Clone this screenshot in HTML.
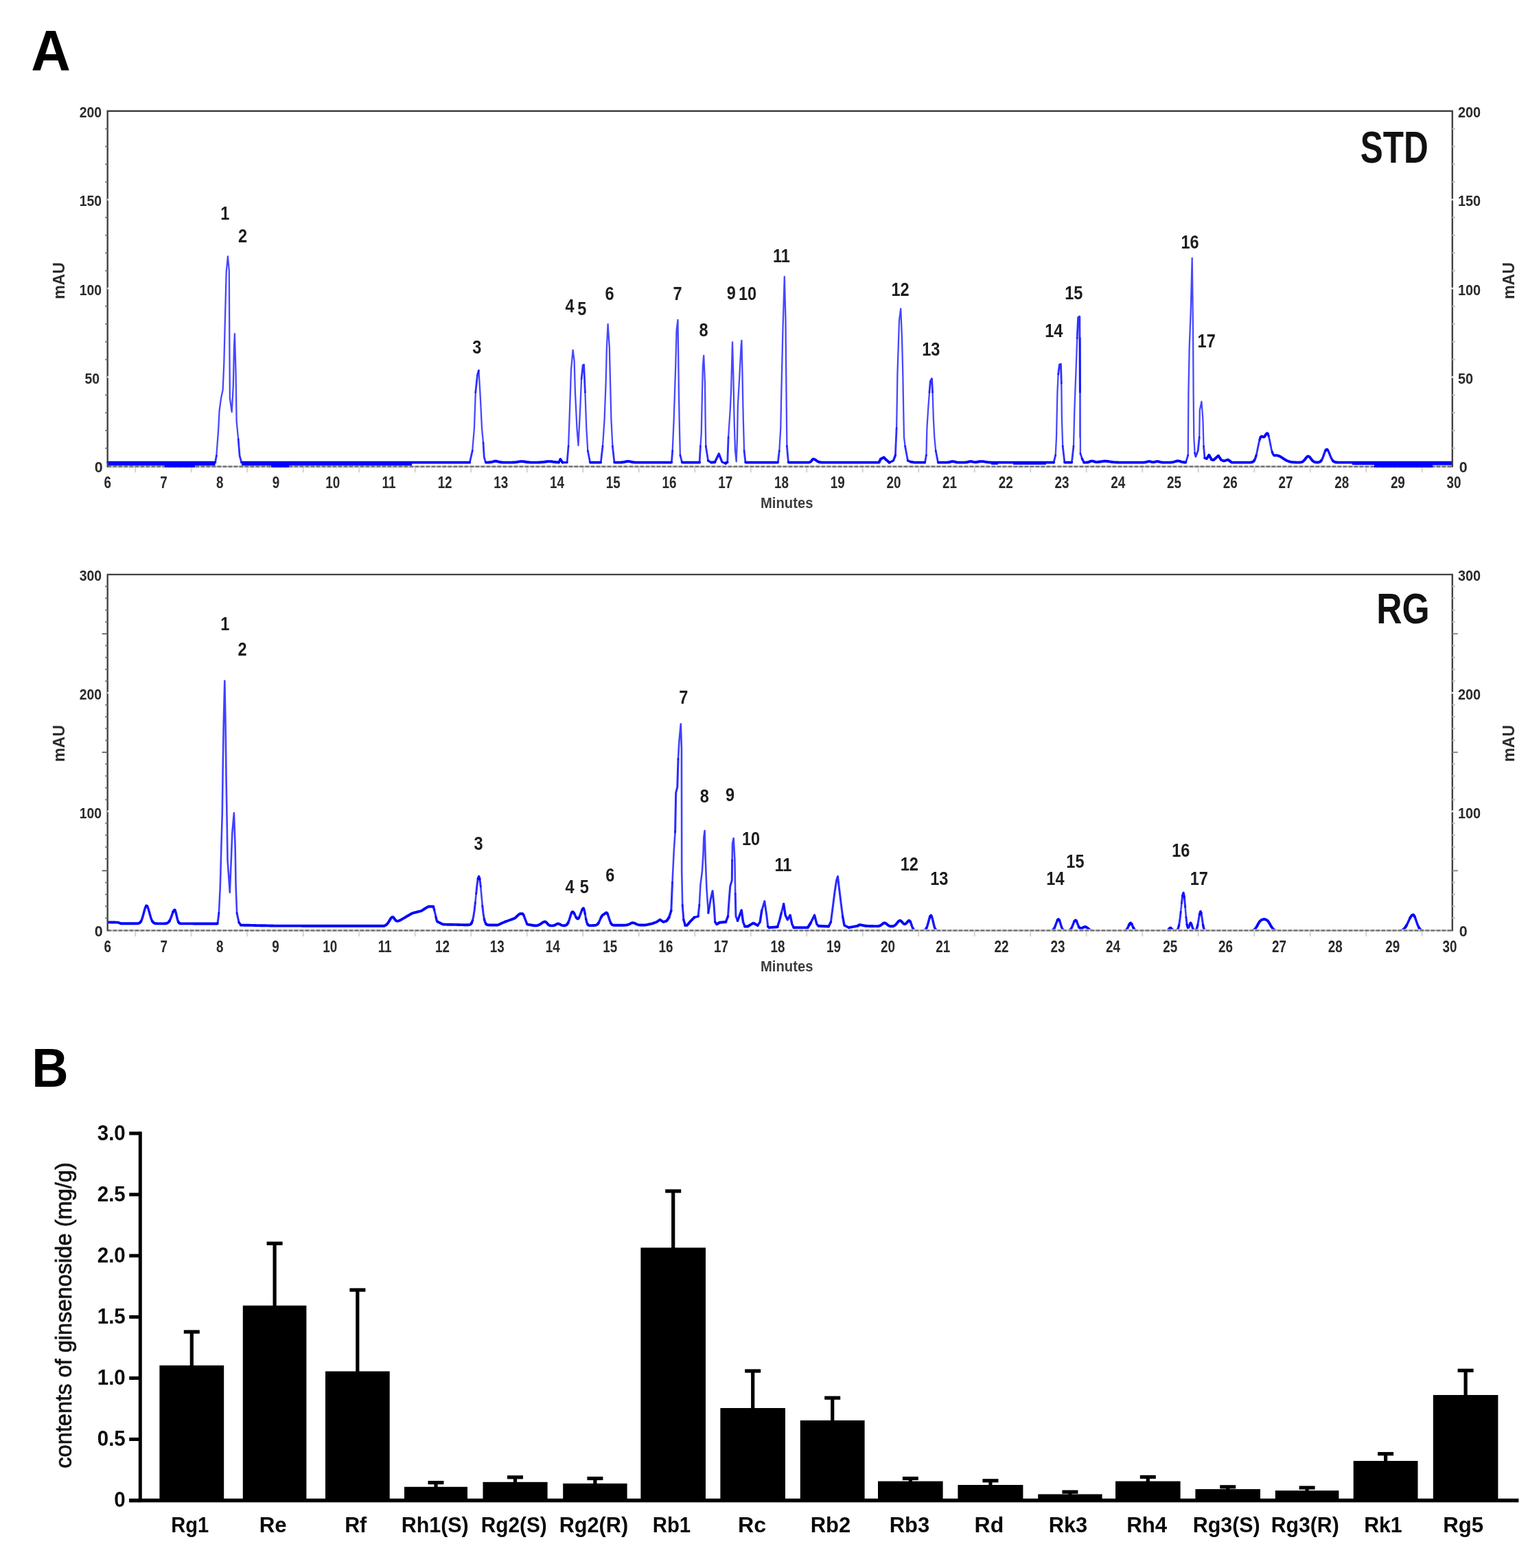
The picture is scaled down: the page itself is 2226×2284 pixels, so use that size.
<!DOCTYPE html>
<html lang="en"><head><meta charset="utf-8"><title>Figure</title>
<style>
html,body{margin:0;padding:0;background:#fff;}
body{width:2226px;height:2284px;overflow:hidden;}
svg{display:block;}
svg text{font-family:"Liberation Sans",sans-serif;}
</style></head><body>
<svg width="2226" height="2284" viewBox="0 0 2226 2284" >
<rect width="2226" height="2284" fill="#fff"/>
<defs><filter id="soft" x="-2%" y="-2%" width="104%" height="104%"><feGaussianBlur stdDeviation="0.8"/></filter><filter id="soft3" x="-2%" y="-2%" width="104%" height="104%"><feGaussianBlur stdDeviation="0.6"/></filter><filter id="soft2" x="-2%" y="-20%" width="104%" height="140%"><feGaussianBlur stdDeviation="0.45"/></filter></defs>
<text x="45.3" y="102.9" font-size="84" font-weight="bold" fill="#000" textLength="57.6" lengthAdjust="spacingAndGlyphs">A</text>
<text x="46.2" y="1583" font-size="80" font-weight="bold" fill="#000" textLength="53.4" lengthAdjust="spacingAndGlyphs">B</text>
<g>
<line x1="156.7" y1="679.60" x2="2115.8" y2="679.60" stroke="#c4c4c4" stroke-width="2.6"/>
<line x1="156.7" y1="679.60" x2="2115.8" y2="679.60" stroke="#6e6e6e" stroke-width="2.2" stroke-dasharray="5.4 2.6"/>
<line x1="156.4" y1="681.0" x2="156.4" y2="683.20" stroke="#eeeeee" stroke-width="1.8"/>
<line x1="164.6" y1="681.0" x2="164.6" y2="683.20" stroke="#eeeeee" stroke-width="1.8"/>
<line x1="172.8" y1="681.0" x2="172.8" y2="683.20" stroke="#eeeeee" stroke-width="1.8"/>
<line x1="180.9" y1="681.0" x2="180.9" y2="683.20" stroke="#eeeeee" stroke-width="1.8"/>
<line x1="189.1" y1="681.0" x2="189.1" y2="683.20" stroke="#eeeeee" stroke-width="1.8"/>
<line x1="197.2" y1="681.3" x2="197.2" y2="688.20" stroke="#d6d6d6" stroke-width="2.2"/>
<line x1="205.3" y1="681.0" x2="205.3" y2="683.20" stroke="#eeeeee" stroke-width="1.8"/>
<line x1="213.5" y1="681.0" x2="213.5" y2="683.20" stroke="#eeeeee" stroke-width="1.8"/>
<line x1="221.6" y1="681.0" x2="221.6" y2="683.20" stroke="#eeeeee" stroke-width="1.8"/>
<line x1="229.8" y1="681.0" x2="229.8" y2="683.20" stroke="#eeeeee" stroke-width="1.8"/>
<line x1="237.9" y1="681.0" x2="237.9" y2="683.20" stroke="#eeeeee" stroke-width="1.8"/>
<line x1="246.1" y1="681.0" x2="246.1" y2="683.20" stroke="#eeeeee" stroke-width="1.8"/>
<line x1="254.2" y1="681.0" x2="254.2" y2="683.20" stroke="#eeeeee" stroke-width="1.8"/>
<line x1="262.4" y1="681.0" x2="262.4" y2="683.20" stroke="#eeeeee" stroke-width="1.8"/>
<line x1="270.6" y1="681.0" x2="270.6" y2="683.20" stroke="#eeeeee" stroke-width="1.8"/>
<line x1="278.7" y1="681.3" x2="278.7" y2="688.20" stroke="#d6d6d6" stroke-width="2.2"/>
<line x1="286.8" y1="681.0" x2="286.8" y2="683.20" stroke="#eeeeee" stroke-width="1.8"/>
<line x1="295.0" y1="681.0" x2="295.0" y2="683.20" stroke="#eeeeee" stroke-width="1.8"/>
<line x1="303.1" y1="681.0" x2="303.1" y2="683.20" stroke="#eeeeee" stroke-width="1.8"/>
<line x1="311.3" y1="681.0" x2="311.3" y2="683.20" stroke="#eeeeee" stroke-width="1.8"/>
<line x1="319.4" y1="681.0" x2="319.4" y2="683.20" stroke="#eeeeee" stroke-width="1.8"/>
<line x1="327.6" y1="681.0" x2="327.6" y2="683.20" stroke="#eeeeee" stroke-width="1.8"/>
<line x1="335.7" y1="681.0" x2="335.7" y2="683.20" stroke="#eeeeee" stroke-width="1.8"/>
<line x1="343.9" y1="681.0" x2="343.9" y2="683.20" stroke="#eeeeee" stroke-width="1.8"/>
<line x1="352.1" y1="681.0" x2="352.1" y2="683.20" stroke="#eeeeee" stroke-width="1.8"/>
<line x1="360.2" y1="681.3" x2="360.2" y2="688.20" stroke="#d6d6d6" stroke-width="2.2"/>
<line x1="368.3" y1="681.0" x2="368.3" y2="683.20" stroke="#eeeeee" stroke-width="1.8"/>
<line x1="376.5" y1="681.0" x2="376.5" y2="683.20" stroke="#eeeeee" stroke-width="1.8"/>
<line x1="384.7" y1="681.0" x2="384.7" y2="683.20" stroke="#eeeeee" stroke-width="1.8"/>
<line x1="392.8" y1="681.0" x2="392.8" y2="683.20" stroke="#eeeeee" stroke-width="1.8"/>
<line x1="400.9" y1="681.0" x2="400.9" y2="683.20" stroke="#eeeeee" stroke-width="1.8"/>
<line x1="409.1" y1="681.0" x2="409.1" y2="683.20" stroke="#eeeeee" stroke-width="1.8"/>
<line x1="417.2" y1="681.0" x2="417.2" y2="683.20" stroke="#eeeeee" stroke-width="1.8"/>
<line x1="425.4" y1="681.0" x2="425.4" y2="683.20" stroke="#eeeeee" stroke-width="1.8"/>
<line x1="433.6" y1="681.0" x2="433.6" y2="683.20" stroke="#eeeeee" stroke-width="1.8"/>
<line x1="441.7" y1="681.3" x2="441.7" y2="688.20" stroke="#d6d6d6" stroke-width="2.2"/>
<line x1="449.8" y1="681.0" x2="449.8" y2="683.20" stroke="#eeeeee" stroke-width="1.8"/>
<line x1="458.0" y1="681.0" x2="458.0" y2="683.20" stroke="#eeeeee" stroke-width="1.8"/>
<line x1="466.2" y1="681.0" x2="466.2" y2="683.20" stroke="#eeeeee" stroke-width="1.8"/>
<line x1="474.3" y1="681.0" x2="474.3" y2="683.20" stroke="#eeeeee" stroke-width="1.8"/>
<line x1="482.4" y1="681.0" x2="482.4" y2="683.20" stroke="#eeeeee" stroke-width="1.8"/>
<line x1="490.6" y1="681.0" x2="490.6" y2="683.20" stroke="#eeeeee" stroke-width="1.8"/>
<line x1="498.7" y1="681.0" x2="498.7" y2="683.20" stroke="#eeeeee" stroke-width="1.8"/>
<line x1="506.9" y1="681.0" x2="506.9" y2="683.20" stroke="#eeeeee" stroke-width="1.8"/>
<line x1="515.0" y1="681.0" x2="515.0" y2="683.20" stroke="#eeeeee" stroke-width="1.8"/>
<line x1="523.2" y1="681.3" x2="523.2" y2="688.20" stroke="#d6d6d6" stroke-width="2.2"/>
<line x1="531.3" y1="681.0" x2="531.3" y2="683.20" stroke="#eeeeee" stroke-width="1.8"/>
<line x1="539.5" y1="681.0" x2="539.5" y2="683.20" stroke="#eeeeee" stroke-width="1.8"/>
<line x1="547.7" y1="681.0" x2="547.7" y2="683.20" stroke="#eeeeee" stroke-width="1.8"/>
<line x1="555.8" y1="681.0" x2="555.8" y2="683.20" stroke="#eeeeee" stroke-width="1.8"/>
<line x1="564.0" y1="681.0" x2="564.0" y2="683.20" stroke="#eeeeee" stroke-width="1.8"/>
<line x1="572.1" y1="681.0" x2="572.1" y2="683.20" stroke="#eeeeee" stroke-width="1.8"/>
<line x1="580.2" y1="681.0" x2="580.2" y2="683.20" stroke="#eeeeee" stroke-width="1.8"/>
<line x1="588.4" y1="681.0" x2="588.4" y2="683.20" stroke="#eeeeee" stroke-width="1.8"/>
<line x1="596.5" y1="681.0" x2="596.5" y2="683.20" stroke="#eeeeee" stroke-width="1.8"/>
<line x1="604.7" y1="681.3" x2="604.7" y2="688.20" stroke="#d6d6d6" stroke-width="2.2"/>
<line x1="612.8" y1="681.0" x2="612.8" y2="683.20" stroke="#eeeeee" stroke-width="1.8"/>
<line x1="621.0" y1="681.0" x2="621.0" y2="683.20" stroke="#eeeeee" stroke-width="1.8"/>
<line x1="629.2" y1="681.0" x2="629.2" y2="683.20" stroke="#eeeeee" stroke-width="1.8"/>
<line x1="637.3" y1="681.0" x2="637.3" y2="683.20" stroke="#eeeeee" stroke-width="1.8"/>
<line x1="645.5" y1="681.0" x2="645.5" y2="683.20" stroke="#eeeeee" stroke-width="1.8"/>
<line x1="653.6" y1="681.0" x2="653.6" y2="683.20" stroke="#eeeeee" stroke-width="1.8"/>
<line x1="661.8" y1="681.0" x2="661.8" y2="683.20" stroke="#eeeeee" stroke-width="1.8"/>
<line x1="669.9" y1="681.0" x2="669.9" y2="683.20" stroke="#eeeeee" stroke-width="1.8"/>
<line x1="678.0" y1="681.0" x2="678.0" y2="683.20" stroke="#eeeeee" stroke-width="1.8"/>
<line x1="686.2" y1="681.3" x2="686.2" y2="688.20" stroke="#d6d6d6" stroke-width="2.2"/>
<line x1="694.3" y1="681.0" x2="694.3" y2="683.20" stroke="#eeeeee" stroke-width="1.8"/>
<line x1="702.5" y1="681.0" x2="702.5" y2="683.20" stroke="#eeeeee" stroke-width="1.8"/>
<line x1="710.7" y1="681.0" x2="710.7" y2="683.20" stroke="#eeeeee" stroke-width="1.8"/>
<line x1="718.8" y1="681.0" x2="718.8" y2="683.20" stroke="#eeeeee" stroke-width="1.8"/>
<line x1="727.0" y1="681.0" x2="727.0" y2="683.20" stroke="#eeeeee" stroke-width="1.8"/>
<line x1="735.1" y1="681.0" x2="735.1" y2="683.20" stroke="#eeeeee" stroke-width="1.8"/>
<line x1="743.2" y1="681.0" x2="743.2" y2="683.20" stroke="#eeeeee" stroke-width="1.8"/>
<line x1="751.4" y1="681.0" x2="751.4" y2="683.20" stroke="#eeeeee" stroke-width="1.8"/>
<line x1="759.5" y1="681.0" x2="759.5" y2="683.20" stroke="#eeeeee" stroke-width="1.8"/>
<line x1="767.7" y1="681.3" x2="767.7" y2="688.20" stroke="#d6d6d6" stroke-width="2.2"/>
<line x1="775.8" y1="681.0" x2="775.8" y2="683.20" stroke="#eeeeee" stroke-width="1.8"/>
<line x1="784.0" y1="681.0" x2="784.0" y2="683.20" stroke="#eeeeee" stroke-width="1.8"/>
<line x1="792.2" y1="681.0" x2="792.2" y2="683.20" stroke="#eeeeee" stroke-width="1.8"/>
<line x1="800.3" y1="681.0" x2="800.3" y2="683.20" stroke="#eeeeee" stroke-width="1.8"/>
<line x1="808.5" y1="681.0" x2="808.5" y2="683.20" stroke="#eeeeee" stroke-width="1.8"/>
<line x1="816.6" y1="681.0" x2="816.6" y2="683.20" stroke="#eeeeee" stroke-width="1.8"/>
<line x1="824.8" y1="681.0" x2="824.8" y2="683.20" stroke="#eeeeee" stroke-width="1.8"/>
<line x1="832.9" y1="681.0" x2="832.9" y2="683.20" stroke="#eeeeee" stroke-width="1.8"/>
<line x1="841.0" y1="681.0" x2="841.0" y2="683.20" stroke="#eeeeee" stroke-width="1.8"/>
<line x1="849.2" y1="681.3" x2="849.2" y2="688.20" stroke="#d6d6d6" stroke-width="2.2"/>
<line x1="857.3" y1="681.0" x2="857.3" y2="683.20" stroke="#eeeeee" stroke-width="1.8"/>
<line x1="865.5" y1="681.0" x2="865.5" y2="683.20" stroke="#eeeeee" stroke-width="1.8"/>
<line x1="873.7" y1="681.0" x2="873.7" y2="683.20" stroke="#eeeeee" stroke-width="1.8"/>
<line x1="881.8" y1="681.0" x2="881.8" y2="683.20" stroke="#eeeeee" stroke-width="1.8"/>
<line x1="890.0" y1="681.0" x2="890.0" y2="683.20" stroke="#eeeeee" stroke-width="1.8"/>
<line x1="898.1" y1="681.0" x2="898.1" y2="683.20" stroke="#eeeeee" stroke-width="1.8"/>
<line x1="906.2" y1="681.0" x2="906.2" y2="683.20" stroke="#eeeeee" stroke-width="1.8"/>
<line x1="914.4" y1="681.0" x2="914.4" y2="683.20" stroke="#eeeeee" stroke-width="1.8"/>
<line x1="922.5" y1="681.0" x2="922.5" y2="683.20" stroke="#eeeeee" stroke-width="1.8"/>
<line x1="930.7" y1="681.3" x2="930.7" y2="688.20" stroke="#d6d6d6" stroke-width="2.2"/>
<line x1="938.8" y1="681.0" x2="938.8" y2="683.20" stroke="#eeeeee" stroke-width="1.8"/>
<line x1="947.0" y1="681.0" x2="947.0" y2="683.20" stroke="#eeeeee" stroke-width="1.8"/>
<line x1="955.2" y1="681.0" x2="955.2" y2="683.20" stroke="#eeeeee" stroke-width="1.8"/>
<line x1="963.3" y1="681.0" x2="963.3" y2="683.20" stroke="#eeeeee" stroke-width="1.8"/>
<line x1="971.5" y1="681.0" x2="971.5" y2="683.20" stroke="#eeeeee" stroke-width="1.8"/>
<line x1="979.6" y1="681.0" x2="979.6" y2="683.20" stroke="#eeeeee" stroke-width="1.8"/>
<line x1="987.8" y1="681.0" x2="987.8" y2="683.20" stroke="#eeeeee" stroke-width="1.8"/>
<line x1="995.9" y1="681.0" x2="995.9" y2="683.20" stroke="#eeeeee" stroke-width="1.8"/>
<line x1="1004.0" y1="681.0" x2="1004.0" y2="683.20" stroke="#eeeeee" stroke-width="1.8"/>
<line x1="1012.2" y1="681.3" x2="1012.2" y2="688.20" stroke="#d6d6d6" stroke-width="2.2"/>
<line x1="1020.4" y1="681.0" x2="1020.4" y2="683.20" stroke="#eeeeee" stroke-width="1.8"/>
<line x1="1028.5" y1="681.0" x2="1028.5" y2="683.20" stroke="#eeeeee" stroke-width="1.8"/>
<line x1="1036.7" y1="681.0" x2="1036.7" y2="683.20" stroke="#eeeeee" stroke-width="1.8"/>
<line x1="1044.8" y1="681.0" x2="1044.8" y2="683.20" stroke="#eeeeee" stroke-width="1.8"/>
<line x1="1053.0" y1="681.0" x2="1053.0" y2="683.20" stroke="#eeeeee" stroke-width="1.8"/>
<line x1="1061.1" y1="681.0" x2="1061.1" y2="683.20" stroke="#eeeeee" stroke-width="1.8"/>
<line x1="1069.2" y1="681.0" x2="1069.2" y2="683.20" stroke="#eeeeee" stroke-width="1.8"/>
<line x1="1077.4" y1="681.0" x2="1077.4" y2="683.20" stroke="#eeeeee" stroke-width="1.8"/>
<line x1="1085.5" y1="681.0" x2="1085.5" y2="683.20" stroke="#eeeeee" stroke-width="1.8"/>
<line x1="1093.7" y1="681.3" x2="1093.7" y2="688.20" stroke="#d6d6d6" stroke-width="2.2"/>
<line x1="1101.9" y1="681.0" x2="1101.9" y2="683.20" stroke="#eeeeee" stroke-width="1.8"/>
<line x1="1110.0" y1="681.0" x2="1110.0" y2="683.20" stroke="#eeeeee" stroke-width="1.8"/>
<line x1="1118.2" y1="681.0" x2="1118.2" y2="683.20" stroke="#eeeeee" stroke-width="1.8"/>
<line x1="1126.3" y1="681.0" x2="1126.3" y2="683.20" stroke="#eeeeee" stroke-width="1.8"/>
<line x1="1134.5" y1="681.0" x2="1134.5" y2="683.20" stroke="#eeeeee" stroke-width="1.8"/>
<line x1="1142.6" y1="681.0" x2="1142.6" y2="683.20" stroke="#eeeeee" stroke-width="1.8"/>
<line x1="1150.8" y1="681.0" x2="1150.8" y2="683.20" stroke="#eeeeee" stroke-width="1.8"/>
<line x1="1158.9" y1="681.0" x2="1158.9" y2="683.20" stroke="#eeeeee" stroke-width="1.8"/>
<line x1="1167.0" y1="681.0" x2="1167.0" y2="683.20" stroke="#eeeeee" stroke-width="1.8"/>
<line x1="1175.2" y1="681.3" x2="1175.2" y2="688.20" stroke="#d6d6d6" stroke-width="2.2"/>
<line x1="1183.4" y1="681.0" x2="1183.4" y2="683.20" stroke="#eeeeee" stroke-width="1.8"/>
<line x1="1191.5" y1="681.0" x2="1191.5" y2="683.20" stroke="#eeeeee" stroke-width="1.8"/>
<line x1="1199.7" y1="681.0" x2="1199.7" y2="683.20" stroke="#eeeeee" stroke-width="1.8"/>
<line x1="1207.8" y1="681.0" x2="1207.8" y2="683.20" stroke="#eeeeee" stroke-width="1.8"/>
<line x1="1216.0" y1="681.0" x2="1216.0" y2="683.20" stroke="#eeeeee" stroke-width="1.8"/>
<line x1="1224.1" y1="681.0" x2="1224.1" y2="683.20" stroke="#eeeeee" stroke-width="1.8"/>
<line x1="1232.2" y1="681.0" x2="1232.2" y2="683.20" stroke="#eeeeee" stroke-width="1.8"/>
<line x1="1240.4" y1="681.0" x2="1240.4" y2="683.20" stroke="#eeeeee" stroke-width="1.8"/>
<line x1="1248.5" y1="681.0" x2="1248.5" y2="683.20" stroke="#eeeeee" stroke-width="1.8"/>
<line x1="1256.7" y1="681.3" x2="1256.7" y2="688.20" stroke="#d6d6d6" stroke-width="2.2"/>
<line x1="1264.9" y1="681.0" x2="1264.9" y2="683.20" stroke="#eeeeee" stroke-width="1.8"/>
<line x1="1273.0" y1="681.0" x2="1273.0" y2="683.20" stroke="#eeeeee" stroke-width="1.8"/>
<line x1="1281.2" y1="681.0" x2="1281.2" y2="683.20" stroke="#eeeeee" stroke-width="1.8"/>
<line x1="1289.3" y1="681.0" x2="1289.3" y2="683.20" stroke="#eeeeee" stroke-width="1.8"/>
<line x1="1297.5" y1="681.0" x2="1297.5" y2="683.20" stroke="#eeeeee" stroke-width="1.8"/>
<line x1="1305.6" y1="681.0" x2="1305.6" y2="683.20" stroke="#eeeeee" stroke-width="1.8"/>
<line x1="1313.8" y1="681.0" x2="1313.8" y2="683.20" stroke="#eeeeee" stroke-width="1.8"/>
<line x1="1321.9" y1="681.0" x2="1321.9" y2="683.20" stroke="#eeeeee" stroke-width="1.8"/>
<line x1="1330.0" y1="681.0" x2="1330.0" y2="683.20" stroke="#eeeeee" stroke-width="1.8"/>
<line x1="1338.2" y1="681.3" x2="1338.2" y2="688.20" stroke="#d6d6d6" stroke-width="2.2"/>
<line x1="1346.4" y1="681.0" x2="1346.4" y2="683.20" stroke="#eeeeee" stroke-width="1.8"/>
<line x1="1354.5" y1="681.0" x2="1354.5" y2="683.20" stroke="#eeeeee" stroke-width="1.8"/>
<line x1="1362.7" y1="681.0" x2="1362.7" y2="683.20" stroke="#eeeeee" stroke-width="1.8"/>
<line x1="1370.8" y1="681.0" x2="1370.8" y2="683.20" stroke="#eeeeee" stroke-width="1.8"/>
<line x1="1379.0" y1="681.0" x2="1379.0" y2="683.20" stroke="#eeeeee" stroke-width="1.8"/>
<line x1="1387.1" y1="681.0" x2="1387.1" y2="683.20" stroke="#eeeeee" stroke-width="1.8"/>
<line x1="1395.2" y1="681.0" x2="1395.2" y2="683.20" stroke="#eeeeee" stroke-width="1.8"/>
<line x1="1403.4" y1="681.0" x2="1403.4" y2="683.20" stroke="#eeeeee" stroke-width="1.8"/>
<line x1="1411.5" y1="681.0" x2="1411.5" y2="683.20" stroke="#eeeeee" stroke-width="1.8"/>
<line x1="1419.7" y1="681.3" x2="1419.7" y2="688.20" stroke="#d6d6d6" stroke-width="2.2"/>
<line x1="1427.9" y1="681.0" x2="1427.9" y2="683.20" stroke="#eeeeee" stroke-width="1.8"/>
<line x1="1436.0" y1="681.0" x2="1436.0" y2="683.20" stroke="#eeeeee" stroke-width="1.8"/>
<line x1="1444.2" y1="681.0" x2="1444.2" y2="683.20" stroke="#eeeeee" stroke-width="1.8"/>
<line x1="1452.3" y1="681.0" x2="1452.3" y2="683.20" stroke="#eeeeee" stroke-width="1.8"/>
<line x1="1460.5" y1="681.0" x2="1460.5" y2="683.20" stroke="#eeeeee" stroke-width="1.8"/>
<line x1="1468.6" y1="681.0" x2="1468.6" y2="683.20" stroke="#eeeeee" stroke-width="1.8"/>
<line x1="1476.8" y1="681.0" x2="1476.8" y2="683.20" stroke="#eeeeee" stroke-width="1.8"/>
<line x1="1484.9" y1="681.0" x2="1484.9" y2="683.20" stroke="#eeeeee" stroke-width="1.8"/>
<line x1="1493.0" y1="681.0" x2="1493.0" y2="683.20" stroke="#eeeeee" stroke-width="1.8"/>
<line x1="1501.2" y1="681.3" x2="1501.2" y2="688.20" stroke="#d6d6d6" stroke-width="2.2"/>
<line x1="1509.4" y1="681.0" x2="1509.4" y2="683.20" stroke="#eeeeee" stroke-width="1.8"/>
<line x1="1517.5" y1="681.0" x2="1517.5" y2="683.20" stroke="#eeeeee" stroke-width="1.8"/>
<line x1="1525.7" y1="681.0" x2="1525.7" y2="683.20" stroke="#eeeeee" stroke-width="1.8"/>
<line x1="1533.8" y1="681.0" x2="1533.8" y2="683.20" stroke="#eeeeee" stroke-width="1.8"/>
<line x1="1542.0" y1="681.0" x2="1542.0" y2="683.20" stroke="#eeeeee" stroke-width="1.8"/>
<line x1="1550.1" y1="681.0" x2="1550.1" y2="683.20" stroke="#eeeeee" stroke-width="1.8"/>
<line x1="1558.2" y1="681.0" x2="1558.2" y2="683.20" stroke="#eeeeee" stroke-width="1.8"/>
<line x1="1566.4" y1="681.0" x2="1566.4" y2="683.20" stroke="#eeeeee" stroke-width="1.8"/>
<line x1="1574.5" y1="681.0" x2="1574.5" y2="683.20" stroke="#eeeeee" stroke-width="1.8"/>
<line x1="1582.7" y1="681.3" x2="1582.7" y2="688.20" stroke="#d6d6d6" stroke-width="2.2"/>
<line x1="1590.9" y1="681.0" x2="1590.9" y2="683.20" stroke="#eeeeee" stroke-width="1.8"/>
<line x1="1599.0" y1="681.0" x2="1599.0" y2="683.20" stroke="#eeeeee" stroke-width="1.8"/>
<line x1="1607.2" y1="681.0" x2="1607.2" y2="683.20" stroke="#eeeeee" stroke-width="1.8"/>
<line x1="1615.3" y1="681.0" x2="1615.3" y2="683.20" stroke="#eeeeee" stroke-width="1.8"/>
<line x1="1623.5" y1="681.0" x2="1623.5" y2="683.20" stroke="#eeeeee" stroke-width="1.8"/>
<line x1="1631.6" y1="681.0" x2="1631.6" y2="683.20" stroke="#eeeeee" stroke-width="1.8"/>
<line x1="1639.8" y1="681.0" x2="1639.8" y2="683.20" stroke="#eeeeee" stroke-width="1.8"/>
<line x1="1647.9" y1="681.0" x2="1647.9" y2="683.20" stroke="#eeeeee" stroke-width="1.8"/>
<line x1="1656.0" y1="681.0" x2="1656.0" y2="683.20" stroke="#eeeeee" stroke-width="1.8"/>
<line x1="1664.2" y1="681.3" x2="1664.2" y2="688.20" stroke="#d6d6d6" stroke-width="2.2"/>
<line x1="1672.4" y1="681.0" x2="1672.4" y2="683.20" stroke="#eeeeee" stroke-width="1.8"/>
<line x1="1680.5" y1="681.0" x2="1680.5" y2="683.20" stroke="#eeeeee" stroke-width="1.8"/>
<line x1="1688.7" y1="681.0" x2="1688.7" y2="683.20" stroke="#eeeeee" stroke-width="1.8"/>
<line x1="1696.8" y1="681.0" x2="1696.8" y2="683.20" stroke="#eeeeee" stroke-width="1.8"/>
<line x1="1705.0" y1="681.0" x2="1705.0" y2="683.20" stroke="#eeeeee" stroke-width="1.8"/>
<line x1="1713.1" y1="681.0" x2="1713.1" y2="683.20" stroke="#eeeeee" stroke-width="1.8"/>
<line x1="1721.2" y1="681.0" x2="1721.2" y2="683.20" stroke="#eeeeee" stroke-width="1.8"/>
<line x1="1729.4" y1="681.0" x2="1729.4" y2="683.20" stroke="#eeeeee" stroke-width="1.8"/>
<line x1="1737.5" y1="681.0" x2="1737.5" y2="683.20" stroke="#eeeeee" stroke-width="1.8"/>
<line x1="1745.7" y1="681.3" x2="1745.7" y2="688.20" stroke="#d6d6d6" stroke-width="2.2"/>
<line x1="1753.9" y1="681.0" x2="1753.9" y2="683.20" stroke="#eeeeee" stroke-width="1.8"/>
<line x1="1762.0" y1="681.0" x2="1762.0" y2="683.20" stroke="#eeeeee" stroke-width="1.8"/>
<line x1="1770.2" y1="681.0" x2="1770.2" y2="683.20" stroke="#eeeeee" stroke-width="1.8"/>
<line x1="1778.3" y1="681.0" x2="1778.3" y2="683.20" stroke="#eeeeee" stroke-width="1.8"/>
<line x1="1786.5" y1="681.0" x2="1786.5" y2="683.20" stroke="#eeeeee" stroke-width="1.8"/>
<line x1="1794.6" y1="681.0" x2="1794.6" y2="683.20" stroke="#eeeeee" stroke-width="1.8"/>
<line x1="1802.8" y1="681.0" x2="1802.8" y2="683.20" stroke="#eeeeee" stroke-width="1.8"/>
<line x1="1810.9" y1="681.0" x2="1810.9" y2="683.20" stroke="#eeeeee" stroke-width="1.8"/>
<line x1="1819.0" y1="681.0" x2="1819.0" y2="683.20" stroke="#eeeeee" stroke-width="1.8"/>
<line x1="1827.2" y1="681.3" x2="1827.2" y2="688.20" stroke="#d6d6d6" stroke-width="2.2"/>
<line x1="1835.4" y1="681.0" x2="1835.4" y2="683.20" stroke="#eeeeee" stroke-width="1.8"/>
<line x1="1843.5" y1="681.0" x2="1843.5" y2="683.20" stroke="#eeeeee" stroke-width="1.8"/>
<line x1="1851.7" y1="681.0" x2="1851.7" y2="683.20" stroke="#eeeeee" stroke-width="1.8"/>
<line x1="1859.8" y1="681.0" x2="1859.8" y2="683.20" stroke="#eeeeee" stroke-width="1.8"/>
<line x1="1868.0" y1="681.0" x2="1868.0" y2="683.20" stroke="#eeeeee" stroke-width="1.8"/>
<line x1="1876.1" y1="681.0" x2="1876.1" y2="683.20" stroke="#eeeeee" stroke-width="1.8"/>
<line x1="1884.2" y1="681.0" x2="1884.2" y2="683.20" stroke="#eeeeee" stroke-width="1.8"/>
<line x1="1892.4" y1="681.0" x2="1892.4" y2="683.20" stroke="#eeeeee" stroke-width="1.8"/>
<line x1="1900.5" y1="681.0" x2="1900.5" y2="683.20" stroke="#eeeeee" stroke-width="1.8"/>
<line x1="1908.7" y1="681.3" x2="1908.7" y2="688.20" stroke="#d6d6d6" stroke-width="2.2"/>
<line x1="1916.9" y1="681.0" x2="1916.9" y2="683.20" stroke="#eeeeee" stroke-width="1.8"/>
<line x1="1925.0" y1="681.0" x2="1925.0" y2="683.20" stroke="#eeeeee" stroke-width="1.8"/>
<line x1="1933.2" y1="681.0" x2="1933.2" y2="683.20" stroke="#eeeeee" stroke-width="1.8"/>
<line x1="1941.3" y1="681.0" x2="1941.3" y2="683.20" stroke="#eeeeee" stroke-width="1.8"/>
<line x1="1949.5" y1="681.0" x2="1949.5" y2="683.20" stroke="#eeeeee" stroke-width="1.8"/>
<line x1="1957.6" y1="681.0" x2="1957.6" y2="683.20" stroke="#eeeeee" stroke-width="1.8"/>
<line x1="1965.8" y1="681.0" x2="1965.8" y2="683.20" stroke="#eeeeee" stroke-width="1.8"/>
<line x1="1973.9" y1="681.0" x2="1973.9" y2="683.20" stroke="#eeeeee" stroke-width="1.8"/>
<line x1="1982.0" y1="681.0" x2="1982.0" y2="683.20" stroke="#eeeeee" stroke-width="1.8"/>
<line x1="1990.2" y1="681.3" x2="1990.2" y2="688.20" stroke="#d6d6d6" stroke-width="2.2"/>
<line x1="1998.4" y1="681.0" x2="1998.4" y2="683.20" stroke="#eeeeee" stroke-width="1.8"/>
<line x1="2006.5" y1="681.0" x2="2006.5" y2="683.20" stroke="#eeeeee" stroke-width="1.8"/>
<line x1="2014.7" y1="681.0" x2="2014.7" y2="683.20" stroke="#eeeeee" stroke-width="1.8"/>
<line x1="2022.8" y1="681.0" x2="2022.8" y2="683.20" stroke="#eeeeee" stroke-width="1.8"/>
<line x1="2031.0" y1="681.0" x2="2031.0" y2="683.20" stroke="#eeeeee" stroke-width="1.8"/>
<line x1="2039.1" y1="681.0" x2="2039.1" y2="683.20" stroke="#eeeeee" stroke-width="1.8"/>
<line x1="2047.2" y1="681.0" x2="2047.2" y2="683.20" stroke="#eeeeee" stroke-width="1.8"/>
<line x1="2055.4" y1="681.0" x2="2055.4" y2="683.20" stroke="#eeeeee" stroke-width="1.8"/>
<line x1="2063.5" y1="681.0" x2="2063.5" y2="683.20" stroke="#eeeeee" stroke-width="1.8"/>
<line x1="2071.7" y1="681.3" x2="2071.7" y2="688.20" stroke="#d6d6d6" stroke-width="2.2"/>
<line x1="2079.8" y1="681.0" x2="2079.8" y2="683.20" stroke="#eeeeee" stroke-width="1.8"/>
<line x1="2088.0" y1="681.0" x2="2088.0" y2="683.20" stroke="#eeeeee" stroke-width="1.8"/>
<line x1="2096.2" y1="681.0" x2="2096.2" y2="683.20" stroke="#eeeeee" stroke-width="1.8"/>
<line x1="2104.3" y1="681.0" x2="2104.3" y2="683.20" stroke="#eeeeee" stroke-width="1.8"/>
<line x1="2112.4" y1="681.0" x2="2112.4" y2="683.20" stroke="#eeeeee" stroke-width="1.8"/>
<g filter="url(#soft3)" fill="none" stroke-linejoin="round" stroke-linecap="round"><path d="M315.3,664.0 L317.9,630.2 L319.6,598.0 L322.1,579.6 L324.6,568.2 L326.3,530.0 L328.0,461.3 L329.7,396.0 L331.9,373.3 L333.8,394.0 L334.3,495.0 L334.9,580.0 L337.7,600.2 L339.8,562.7 L341.0,505.0 L341.9,486.2 L343.6,545.8 L344.6,613.3 L347.2,640.0 M688.2,656.6 L690.9,623.8 L692.8,571.3 M697.4,539.6 L699.4,571.3 L702.0,623.8 L704.0,645.0 M828.1,650.0 L830.0,597.6 L832.0,538.5 L834.6,510.0 L836.6,525.3 L837.9,571.3 L840.5,623.8 L842.5,648.8 L845.1,597.6 L847.1,551.6 M852.4,571.3 L854.3,623.8 L856.3,656.6 M878.0,650.0 L880.6,610.7 L882.6,558.2 L883.9,505.7 L885.6,472.2 L887.8,505.7 L889.1,558.2 L890.4,610.7 L892.4,650.0 M979.7,656.6 L981.7,610.7 L983.0,571.3 L984.3,532.0 L985.6,481.0 L987.5,465.8 L988.2,518.8 L988.9,571.3 L989.9,623.8 L990.9,663.2 M1020.4,650.0 L1021.7,632.0 L1023.0,571.3 L1023.9,533.0 L1025.2,517.8 L1027.0,558.2 L1027.6,610.7 L1028.3,650.0 M1061.1,637.0 L1063.7,597.6 L1065.0,571.3 L1066.1,531.9 L1067.0,498.4 L1068.3,545.0 L1069.6,610.7 L1071.0,656.6 L1072.7,672.4 L1074.0,637.0 L1074.9,591.0 L1077.5,545.0 L1079.5,505.7 L1080.4,496.0 L1081.5,545.0 L1082.8,610.7 L1084.1,656.6 M1135.3,656.6 L1137.3,623.8 L1138.3,571.3 L1139.6,518.8 L1140.5,479.4 L1142.8,403.0 L1144.5,466.3 L1145.1,532.0 L1145.8,597.6 L1146.4,650.0 M1306.1,623.8 L1306.8,584.4 L1307.4,545.0 L1308.7,505.7 L1310.0,466.3 L1312.2,449.6 L1314.0,492.5 L1315.3,545.0 L1316.2,597.6 L1317.0,637.0 L1318.6,650.0 M1349.4,663.2 L1350.4,623.8 L1352.5,591.0 L1354.0,571.3 M1358.6,571.3 L1359.9,610.7 L1361.3,637.0 L1363.2,656.6 M1537.7,663.2 L1539.0,637.0 L1540.4,571.3 L1541.7,545.0 M1546.3,558.2 L1546.9,610.7 L1548.2,650.0 M1564.0,650.0 L1565.3,597.6 L1567.3,545.0 L1569.2,492.5 M1573.3,571.3 L1573.3,637.0 L1573.5,492.5 L1573.9,660.6 M1730.7,663.2 L1731.4,571.3 L1732.7,505.7 L1734.7,453.1 L1736.7,375.9 L1738.0,479.4 L1738.6,571.3 L1739.3,637.0 L1740.6,660.0 M1747.2,637.0 L1747.8,597.6 L1750.4,585.0 L1752.4,610.7 L1753.5,650.0" stroke="#0000ff" stroke-opacity="0.72" stroke-width="2.30"/><path d="M313.6,673.6 L315.3,664.0 M347.2,640.0 L349.1,664.0 L351.8,673.6 M684.3,673.6 L688.2,656.6 M692.8,571.3 L695.5,546.0 L697.4,539.6 M704.0,645.0 L705.3,665.8 L707.5,673.6 M826.1,673.6 L828.1,650.0 M847.1,551.6 L849.2,532.0 L850.6,531.2 L852.4,571.3 M856.3,656.6 L859.6,673.6 M875.3,673.6 L878.0,650.0 M892.4,650.0 L895.0,673.6 M978.4,673.6 L979.7,656.6 M990.9,663.2 L993.5,673.2 M1019.1,673.6 L1020.4,650.0 M1028.3,650.0 L1031.6,671.0 M1059.8,673.6 L1061.1,637.0 M1084.1,656.6 L1086.0,673.4 M1133.3,673.6 L1135.3,656.6 M1146.4,650.0 L1148.4,673.2 M1304.4,663.2 L1306.1,623.8 M1318.6,650.0 L1320.5,660.6 L1322.5,671.0 M1347.5,673.6 L1349.4,663.2 M1354.0,571.3 L1355.3,555.5 L1357.5,551.4 L1358.6,571.3 M1363.2,656.6 L1366.5,673.6 M1535.1,673.6 L1537.7,663.2 M1541.7,545.0 L1543.4,531.0 L1545.4,530.2 L1546.3,558.2 M1548.2,650.0 L1550.9,673.6 M1561.4,673.6 L1564.0,650.0 M1569.2,492.5 L1570.6,462.5 L1572.8,461.0 L1573.3,571.3 M1573.9,660.6 L1576.5,668.5 M1727.5,673.6 L1730.7,663.2 M1740.6,660.0 L1741.9,665.2 L1745.2,656.6 L1747.2,637.0 M1753.5,650.0 L1755.0,667.2 M1829.9,663.9 L1831.2,658.5 L1832.5,652.1 L1833.8,645.7 L1835.1,640.3 M1848.1,634.8 L1849.4,640.3 L1850.7,647.1 L1852.0,653.5 L1853.3,658.5" stroke="#0000ff" stroke-opacity="0.81" stroke-width="2.83"/><path d="M313.2,673.6 L313.6,673.6 M351.8,673.6 L352.6,673.6 M684.1,673.6 L684.3,673.6 M707.5,673.6 L708.3,673.6 M814.0,673.6 L816.3,669.0 M819.5,673.6 L826.1,673.6 M859.6,673.6 L860.4,673.6 M874.7,673.6 L875.3,673.6 M895.0,673.6 L895.8,673.6 M977.7,673.6 L978.4,673.6 M993.5,673.2 L994.3,673.6 M1019.0,673.6 L1019.1,673.6 M1031.6,671.0 L1036.0,673.6 M1041.4,673.2 L1047.3,661.0 L1051.9,673.0 L1057.2,675.0 M1059.3,673.6 L1059.8,673.6 M1086.0,673.4 L1086.8,673.6 M1132.3,673.6 L1133.3,673.6 M1148.4,673.2 L1149.2,673.6 M1295.6,673.7 L1301.5,671.0 L1304.4,663.2 M1322.5,671.0 L1326.5,672.6 M1347.1,673.6 L1347.5,673.6 M1366.5,673.6 L1367.3,673.6 M1535.0,673.6 L1535.1,673.6 M1550.9,673.6 L1551.7,673.6 M1560.8,673.6 L1561.4,673.6 M1576.5,668.5 L1579.1,673.6 M1726.8,673.5 L1727.5,673.6 M1755.0,667.2 L1758.0,668.0 M1827.3,670.6 L1828.6,667.9 L1829.9,663.9 M1835.1,640.3 L1836.4,636.9 L1836.5,636.7 M1846.8,631.7 L1848.1,634.8 M1853.3,658.5 L1854.6,661.7 L1855.9,663.1 M1924.8,670.9 L1926.1,668.8 L1927.4,665.8 L1928.7,662.1 L1930.0,658.5 L1931.3,655.8 M1933.9,655.2 L1935.2,657.3 L1936.5,660.2 L1937.8,663.6 L1939.1,666.6 L1940.4,669.2 L1941.7,671.0" stroke="#0000ff" stroke-opacity="0.91" stroke-width="3.37"/><path d="M157.2,673.6 L158.5,673.6 L159.8,673.6 L161.1,673.6 L162.4,673.6 L163.7,673.6 L165.0,673.6 L166.3,673.6 L167.6,673.6 L168.9,673.6 L170.2,673.6 L171.5,673.6 L172.8,673.6 L174.1,673.6 L175.4,673.6 L176.7,673.6 L178.0,673.6 L179.3,673.6 L180.6,673.6 L181.9,673.6 L183.2,673.6 L184.5,673.6 L185.8,673.6 L187.1,673.6 L188.4,673.6 L189.7,673.6 L191.0,673.6 L192.3,673.6 L193.6,673.6 L194.9,673.6 L196.2,673.6 L197.5,673.6 L198.8,673.6 L200.1,673.6 L201.4,673.6 L202.7,673.6 L204.0,673.6 L205.3,673.6 L206.6,673.6 L207.9,673.6 L209.2,673.6 L210.5,673.6 L211.8,673.6 L213.1,673.6 L214.4,673.6 L215.7,673.6 L217.0,673.6 L218.3,673.6 L219.6,673.6 L220.9,673.6 L222.2,673.6 L223.5,673.6 L224.8,673.6 L226.1,673.6 L227.4,673.6 L228.7,673.6 L230.0,673.6 L231.3,673.6 L232.6,673.6 L233.9,673.6 L235.2,673.6 L236.5,673.6 L237.8,673.6 L239.1,673.6 L240.4,673.6 L241.7,673.6 L243.0,673.6 L244.3,673.6 L245.6,673.6 L246.9,673.6 L248.2,673.6 L249.5,673.6 L250.8,673.6 L252.1,673.6 L253.4,673.6 L254.7,673.6 L256.0,673.6 L257.3,673.6 L258.6,673.6 L259.9,673.6 L261.2,673.6 L262.5,673.6 L263.8,673.6 L265.1,673.6 L266.4,673.6 L267.7,673.6 L269.0,673.6 L270.3,673.6 L271.6,673.6 L272.9,673.6 L274.2,673.6 L275.5,673.6 L276.8,673.6 L278.1,673.6 L279.4,673.6 L280.7,673.6 L282.0,673.6 L283.3,673.6 L284.6,673.6 L285.9,673.6 L287.2,673.6 L288.5,673.6 L289.8,673.6 L291.1,673.6 L292.4,673.6 L293.7,673.6 L295.0,673.6 L296.3,673.6 L297.6,673.6 L298.9,673.6 L300.2,673.6 L301.5,673.6 L302.8,673.6 L304.1,673.6 L305.4,673.6 L306.7,673.6 L308.0,673.6 L309.3,673.6 L310.6,673.6 L311.9,673.6 L313.2,673.6 M352.6,673.6 L353.9,673.6 L355.2,673.6 L356.5,673.6 L357.8,673.6 L359.1,673.6 L360.4,673.6 L361.7,673.6 L363.0,673.6 L364.3,673.6 L365.6,673.6 L366.9,673.6 L368.2,673.6 L369.5,673.6 L370.8,673.6 L372.1,673.6 L373.4,673.6 L374.7,673.6 L376.0,673.6 L377.3,673.6 L378.6,673.6 L379.9,673.6 L381.2,673.6 L382.5,673.6 L383.8,673.6 L385.1,673.6 L386.4,673.6 L387.7,673.6 L389.0,673.6 L390.3,673.6 L391.6,673.6 L392.9,673.6 L394.2,673.6 L395.5,673.6 L396.8,673.6 L398.1,673.6 L399.4,673.6 L400.7,673.6 L402.0,673.6 L403.3,673.6 L404.6,673.6 L405.9,673.6 L407.2,673.6 L408.5,673.6 L409.8,673.6 L411.1,673.6 L412.4,673.6 L413.7,673.6 L415.0,673.6 L416.3,673.6 L417.6,673.6 L418.9,673.6 L420.2,673.6 L421.5,673.6 L422.8,673.6 L424.1,673.6 L425.4,673.6 L426.7,673.6 L428.0,673.6 L429.3,673.6 L430.6,673.6 L431.9,673.6 L433.2,673.6 L434.5,673.6 L435.8,673.6 L437.1,673.6 L438.4,673.6 L439.7,673.6 L441.0,673.6 L442.3,673.6 L443.6,673.6 L444.9,673.6 L446.2,673.6 L447.5,673.6 L448.8,673.6 L450.1,673.6 L451.4,673.6 L452.7,673.6 L454.0,673.6 L455.3,673.6 L456.6,673.6 L457.9,673.6 L459.2,673.6 L460.5,673.6 L461.8,673.6 L463.1,673.6 L464.4,673.6 L465.7,673.6 L467.0,673.6 L468.3,673.6 L469.6,673.6 L470.9,673.6 L472.2,673.6 L473.5,673.6 L474.8,673.6 L476.1,673.6 L477.4,673.6 L478.7,673.6 L480.0,673.6 L481.3,673.6 L482.6,673.6 L483.9,673.6 L485.2,673.6 L486.5,673.6 L487.8,673.6 L489.1,673.6 L490.4,673.6 L491.7,673.6 L493.0,673.6 L494.3,673.6 L495.6,673.6 L496.9,673.6 L498.2,673.6 L499.5,673.6 L500.8,673.6 L502.1,673.6 L503.4,673.6 L504.7,673.6 L506.0,673.6 L507.3,673.6 L508.6,673.6 L509.9,673.6 L511.2,673.6 L512.5,673.6 L513.8,673.6 L515.1,673.6 L516.4,673.6 L517.7,673.6 L519.0,673.6 L520.3,673.6 L521.6,673.6 L522.9,673.6 L524.2,673.6 L525.5,673.6 L526.8,673.6 L528.1,673.6 L529.4,673.6 L530.7,673.6 L532.0,673.6 L533.3,673.6 L534.6,673.6 L535.9,673.6 L537.2,673.6 L538.5,673.6 L539.8,673.6 L541.1,673.6 L542.4,673.6 L543.7,673.6 L545.0,673.6 L546.3,673.6 L547.6,673.6 L548.9,673.6 L550.2,673.6 L551.5,673.6 L552.8,673.6 L554.1,673.6 L555.4,673.6 L556.7,673.6 L558.0,673.6 L559.3,673.6 L560.6,673.6 L561.9,673.6 L563.2,673.6 L564.5,673.6 L565.8,673.6 L567.1,673.6 L568.4,673.6 L569.7,673.6 L571.0,673.6 L572.3,673.6 L573.6,673.6 L574.9,673.6 L576.2,673.6 L577.5,673.6 L578.8,673.6 L580.1,673.6 L581.4,673.6 L582.7,673.6 L584.0,673.6 L585.3,673.6 L586.6,673.6 L587.9,673.6 L589.2,673.6 L590.5,673.6 L591.8,673.6 L593.1,673.6 L594.4,673.6 L595.7,673.6 L597.0,673.6 L598.3,673.6 L599.6,673.6 L600.9,673.6 L602.2,673.6 L603.5,673.6 L604.8,673.6 L606.1,673.6 L607.4,673.6 L608.7,673.6 L610.0,673.6 L611.3,673.6 L612.6,673.6 L613.9,673.6 L615.2,673.6 L616.5,673.6 L617.8,673.6 L619.1,673.6 L620.4,673.6 L621.7,673.6 L623.0,673.6 L624.3,673.6 L625.6,673.6 L626.9,673.6 L628.2,673.6 L629.5,673.6 L630.8,673.6 L632.1,673.6 L633.4,673.6 L634.7,673.6 L636.0,673.6 L637.3,673.6 L638.6,673.6 L639.9,673.6 L641.2,673.6 L642.5,673.6 L643.8,673.6 L645.1,673.6 L646.4,673.6 L647.7,673.6 L649.0,673.6 L650.3,673.6 L651.6,673.6 L652.9,673.6 L654.2,673.6 L655.5,673.6 L656.8,673.6 L658.1,673.6 L659.4,673.6 L660.7,673.6 L662.0,673.6 L663.3,673.6 L664.6,673.6 L665.9,673.6 L667.2,673.6 L668.5,673.6 L669.8,673.6 L671.1,673.6 L672.4,673.6 L673.7,673.6 L675.0,673.6 L676.3,673.6 L677.6,673.6 L678.9,673.6 L680.2,673.6 L681.5,673.6 L682.8,673.6 L684.1,673.6 M708.3,673.6 L709.6,673.6 L710.9,673.6 L712.2,673.5 L713.5,673.4 L714.8,673.2 L716.1,673.0 L717.4,672.7 L718.7,672.3 L720.0,672.0 L721.3,671.8 L722.0,671.8 L722.6,671.8 L723.9,672.0 L725.2,672.3 L726.5,672.6 L727.8,673.0 L729.1,673.2 L730.4,673.4 L731.7,673.5 L733.0,673.6 L734.3,673.6 L735.6,673.6 L736.9,673.6 L738.2,673.6 L739.5,673.6 L740.8,673.6 L742.1,673.6 L743.4,673.6 L744.7,673.6 L746.0,673.6 L747.3,673.5 L748.6,673.5 L749.9,673.4 L751.2,673.3 L752.5,673.1 L753.8,672.9 L755.1,672.7 L756.4,672.4 L757.7,672.3 L759.0,672.1 L760.0,672.1 L760.3,672.1 L761.6,672.2 L762.9,672.3 L764.2,672.5 L765.5,672.8 L766.8,673.0 L768.1,673.2 L769.4,673.3 L770.7,673.4 L772.0,673.5 L773.3,673.6 L774.6,673.6 L775.9,673.6 L777.2,673.6 L778.5,673.6 L779.8,673.6 L781.1,673.6 L782.4,673.6 L783.7,673.6 L785.0,673.5 L786.3,673.5 L787.6,673.4 L788.9,673.3 L790.2,673.2 L791.5,673.1 L792.8,672.9 L794.1,672.7 L795.4,672.5 L796.7,672.3 L798.0,672.2 L799.3,672.1 L800.0,672.1 L800.6,672.1 L801.9,672.2 L803.2,672.3 L804.5,672.5 L805.8,672.7 L807.1,672.9 L808.4,673.0 L809.7,673.2 L811.0,673.3 L812.3,673.4 L813.6,673.5 L814.0,673.6 M816.3,669.0 L819.5,673.6 M860.4,673.6 L861.7,673.6 L863.0,673.6 L864.3,673.6 L865.6,673.6 L866.9,673.6 L868.2,673.6 L869.5,673.6 L870.8,673.6 L872.1,673.6 L873.4,673.6 L874.7,673.6 M895.8,673.6 L897.1,673.6 L898.4,673.6 L899.7,673.6 L901.0,673.6 L902.3,673.6 L903.6,673.6 L904.9,673.5 L906.2,673.5 L907.5,673.3 L908.8,673.1 L910.1,672.8 L911.4,672.5 L912.7,672.2 L914.0,672.1 L915.0,672.0 L915.3,672.0 L916.6,672.1 L917.9,672.4 L919.2,672.7 L920.5,673.0 L921.8,673.2 L923.1,673.4 L924.4,673.5 L925.7,673.6 L927.0,673.6 L928.3,673.6 L929.6,673.6 L930.9,673.6 L932.2,673.6 L933.5,673.6 L934.8,673.6 L936.1,673.6 L937.4,673.6 L938.7,673.6 L940.0,673.6 L941.3,673.6 L942.6,673.6 L943.9,673.6 L945.2,673.6 L946.5,673.6 L947.8,673.6 L949.1,673.6 L950.4,673.6 L951.7,673.6 L953.0,673.6 L954.3,673.6 L955.6,673.6 L956.9,673.6 L958.2,673.6 L959.5,673.6 L960.8,673.6 L962.1,673.6 L963.4,673.6 L964.7,673.6 L966.0,673.6 L967.3,673.6 L968.6,673.6 L969.9,673.6 L971.2,673.6 L972.5,673.6 L973.8,673.6 L975.1,673.6 L976.4,673.6 L977.7,673.6 M994.3,673.6 L995.6,673.6 L996.9,673.6 L998.2,673.6 L999.5,673.6 L1000.8,673.6 L1002.1,673.6 L1003.4,673.6 L1004.7,673.6 L1006.0,673.6 L1007.3,673.6 L1008.6,673.6 L1009.9,673.6 L1011.2,673.6 L1012.5,673.6 L1013.8,673.6 L1015.1,673.6 L1016.4,673.6 L1017.7,673.6 L1019.0,673.6 M1036.0,673.6 L1041.4,673.2 M1057.2,675.0 L1058.0,673.6 L1059.3,673.6 M1086.8,673.6 L1088.1,673.6 L1089.4,673.6 L1090.7,673.6 L1092.0,673.6 L1093.3,673.6 L1094.6,673.6 L1095.9,673.6 L1097.2,673.6 L1098.5,673.6 L1099.8,673.6 L1101.1,673.6 L1102.4,673.6 L1103.7,673.6 L1105.0,673.6 L1106.3,673.6 L1107.6,673.6 L1108.9,673.6 L1110.2,673.6 L1111.5,673.6 L1112.8,673.6 L1114.1,673.6 L1115.4,673.6 L1116.7,673.6 L1118.0,673.6 L1119.3,673.6 L1120.6,673.6 L1121.9,673.6 L1123.2,673.6 L1124.5,673.6 L1125.8,673.6 L1127.1,673.6 L1128.4,673.6 L1129.7,673.6 L1131.0,673.6 L1132.3,673.6 M1149.2,673.6 L1150.5,673.6 L1151.8,673.6 L1153.1,673.6 L1154.4,673.6 L1155.7,673.6 L1157.0,673.6 L1158.3,673.6 L1159.6,673.6 L1160.9,673.6 L1162.2,673.6 L1163.5,673.6 L1164.8,673.6 L1166.1,673.6 L1167.4,673.6 L1168.7,673.6 L1170.0,673.6 L1171.3,673.6 L1172.6,673.6 L1173.9,673.6 L1175.2,673.6 L1176.5,673.6 L1177.8,673.6 L1179.1,673.4 L1180.4,673.0 L1181.7,671.9 L1183.0,670.2 L1184.3,668.8 L1184.9,668.6 L1185.6,668.7 L1186.9,669.2 L1188.2,670.0 L1189.5,671.0 L1190.8,671.9 L1192.1,672.6 L1193.4,673.1 L1194.7,673.3 L1196.0,673.5 L1197.3,673.6 L1198.6,673.6 L1199.9,673.6 L1201.2,673.6 L1202.5,673.6 L1203.8,673.6 L1205.1,673.6 L1206.4,673.6 L1207.7,673.6 L1209.0,673.6 L1210.3,673.6 L1211.6,673.6 L1212.9,673.6 L1214.2,673.6 L1215.5,673.6 L1216.8,673.6 L1218.1,673.6 L1219.4,673.6 L1220.7,673.6 L1222.0,673.6 L1223.3,673.6 L1224.6,673.6 L1225.9,673.6 L1227.2,673.6 L1228.5,673.6 L1229.8,673.6 L1231.1,673.6 L1232.4,673.6 L1233.7,673.6 L1235.0,673.6 L1236.3,673.6 L1237.6,673.6 L1238.9,673.6 L1240.2,673.6 L1241.5,673.6 L1242.8,673.6 L1244.1,673.6 L1245.4,673.6 L1246.7,673.6 L1248.0,673.6 L1249.3,673.6 L1250.6,673.6 L1251.9,673.6 L1253.2,673.6 L1254.5,673.6 L1255.8,673.6 L1257.1,673.6 L1258.4,673.6 L1259.7,673.6 L1261.0,673.6 L1262.3,673.6 L1263.6,673.6 L1264.9,673.6 L1266.2,673.6 L1267.5,673.6 L1268.8,673.6 L1270.1,673.6 L1271.4,673.6 L1272.7,673.6 L1274.0,673.6 L1275.3,673.6 L1276.6,673.6 L1277.9,673.6 L1279.2,673.6 L1280.5,673.6 L1280.5,673.6 L1283.1,668.5 L1287.7,666.3 L1291.0,669.8 L1295.6,673.7 M1326.5,672.6 L1332.0,673.6 L1332.8,673.6 L1334.1,673.6 L1335.4,673.6 L1336.7,673.6 L1338.0,673.6 L1339.3,673.6 L1340.6,673.6 L1341.9,673.6 L1343.2,673.6 L1344.5,673.6 L1345.8,673.6 L1347.1,673.6 M1367.3,673.6 L1368.6,673.6 L1369.9,673.6 L1371.2,673.6 L1372.5,673.6 L1373.8,673.6 L1375.1,673.6 L1376.4,673.6 L1377.7,673.6 L1379.0,673.6 L1380.3,673.5 L1381.6,673.4 L1382.9,673.3 L1384.2,672.9 L1385.5,672.5 L1386.8,672.2 L1388.0,672.1 L1388.1,672.1 L1389.4,672.3 L1390.7,672.6 L1392.0,673.0 L1393.3,673.3 L1394.6,673.5 L1395.9,673.6 L1397.2,673.6 L1398.5,673.6 L1399.8,673.6 L1401.1,673.6 L1402.4,673.6 L1403.7,673.6 L1405.0,673.6 L1406.3,673.5 L1407.6,673.4 L1408.9,673.3 L1410.2,672.9 L1411.5,672.5 L1412.8,672.2 L1414.0,672.1 L1414.1,672.1 L1415.4,672.2 L1416.7,672.6 L1418.0,672.9 L1419.3,673.1 L1420.6,673.2 L1421.9,673.2 L1423.2,673.0 L1424.5,672.8 L1425.8,672.5 L1427.1,672.3 L1428.4,672.2 L1429.7,672.1 L1430.0,672.1 L1431.0,672.1 L1432.3,672.2 L1433.6,672.4 L1434.9,672.7 L1436.2,672.9 L1437.5,673.1 L1438.8,673.3 L1440.1,673.4 L1441.4,673.5 L1442.7,673.5 L1444.0,673.6 L1445.3,673.6 L1446.6,673.6 L1447.9,673.6 L1449.2,673.6 L1450.5,673.6 L1451.8,673.6 L1453.1,673.6 L1454.4,673.6 L1455.7,673.6 L1457.0,673.6 L1458.3,673.6 L1459.6,673.6 L1460.9,673.6 L1462.2,673.6 L1463.5,673.6 L1464.8,673.6 L1466.1,673.6 L1467.4,673.6 L1468.7,673.6 L1470.0,673.6 L1471.3,673.6 L1472.6,673.6 L1473.9,673.6 L1475.2,673.6 L1476.5,673.6 L1477.8,673.6 L1479.1,673.6 L1480.4,673.6 L1481.7,673.6 L1483.0,673.6 L1484.3,673.6 L1485.6,673.6 L1486.9,673.6 L1488.2,673.6 L1489.5,673.6 L1490.8,673.6 L1492.1,673.6 L1493.4,673.6 L1494.7,673.6 L1496.0,673.6 L1497.3,673.6 L1498.6,673.6 L1499.9,673.6 L1501.2,673.6 L1502.5,673.6 L1503.8,673.6 L1505.1,673.6 L1506.4,673.6 L1507.7,673.6 L1509.0,673.6 L1510.3,673.6 L1511.6,673.6 L1512.9,673.6 L1514.2,673.6 L1515.5,673.6 L1516.8,673.6 L1518.1,673.6 L1519.4,673.6 L1520.7,673.6 L1522.0,673.6 L1523.3,673.6 L1524.6,673.6 L1525.9,673.6 L1527.2,673.6 L1528.5,673.6 L1529.8,673.6 L1531.1,673.6 L1532.4,673.6 L1533.7,673.6 L1535.0,673.6 M1551.7,673.6 L1553.0,673.6 L1554.3,673.6 L1555.6,673.6 L1556.9,673.6 L1558.2,673.6 L1559.5,673.6 L1560.8,673.6 M1579.1,673.6 L1579.9,673.6 L1581.2,673.6 L1582.5,673.6 L1583.8,673.5 L1585.1,673.3 L1586.4,672.9 L1587.7,672.4 L1589.0,671.9 L1590.3,671.6 L1590.8,671.6 L1591.6,671.6 L1592.9,671.9 L1594.2,672.4 L1595.5,672.8 L1596.8,673.0 L1598.1,673.1 L1599.4,673.0 L1600.7,672.8 L1602.0,672.7 L1603.3,672.5 L1604.6,672.3 L1605.9,672.1 L1607.2,671.9 L1608.5,671.8 L1609.8,671.8 L1610.0,671.8 L1611.1,671.8 L1612.4,671.9 L1613.7,672.0 L1615.0,672.2 L1616.3,672.4 L1617.6,672.6 L1618.9,672.8 L1620.2,673.0 L1621.5,673.1 L1622.8,673.3 L1624.1,673.4 L1625.4,673.4 L1626.7,673.5 L1628.0,673.5 L1629.3,673.6 L1630.6,673.6 L1631.9,673.6 L1633.2,673.6 L1634.5,673.6 L1635.8,673.6 L1637.1,673.6 L1638.4,673.6 L1639.7,673.6 L1641.0,673.6 L1642.3,673.6 L1643.6,673.6 L1644.9,673.6 L1646.2,673.6 L1647.5,673.6 L1648.8,673.6 L1650.1,673.6 L1651.4,673.6 L1652.7,673.6 L1654.0,673.6 L1655.3,673.6 L1656.6,673.6 L1657.9,673.6 L1659.2,673.6 L1660.5,673.6 L1661.8,673.6 L1663.1,673.6 L1664.4,673.6 L1665.7,673.6 L1667.0,673.5 L1668.3,673.4 L1669.6,673.1 L1670.9,672.7 L1672.2,672.4 L1673.5,672.1 L1674.0,672.1 L1674.8,672.1 L1676.1,672.4 L1677.4,672.8 L1678.7,673.1 L1680.0,673.2 L1681.3,673.1 L1682.6,672.8 L1683.9,672.4 L1685.2,672.2 L1686.0,672.1 L1686.5,672.1 L1687.8,672.3 L1689.1,672.7 L1690.4,673.1 L1691.7,673.4 L1693.0,673.5 L1694.3,673.6 L1695.6,673.6 L1696.9,673.6 L1698.2,673.6 L1699.5,673.6 L1700.8,673.6 L1702.1,673.6 L1703.4,673.6 L1704.7,673.6 L1706.0,673.5 L1707.3,673.4 L1708.6,673.2 L1709.9,672.9 L1711.2,672.5 L1712.5,672.1 L1713.8,671.7 L1715.1,671.5 L1716.0,671.4 L1716.4,671.4 L1717.7,671.6 L1719.0,671.9 L1720.3,672.4 L1721.6,672.8 L1722.9,673.1 L1724.2,673.3 L1725.5,673.5 L1726.8,673.5 M1758.0,668.0 L1761.3,662.8 L1765.0,669.5 L1768.0,670.0 L1775.0,663.8 L1779.0,670.0 L1783.0,671.5 L1789.0,669.6 L1794.0,673.4 L1794.8,673.6 L1796.1,673.6 L1797.4,673.6 L1798.7,673.6 L1800.0,673.6 L1801.3,673.6 L1802.6,673.6 L1803.9,673.6 L1805.2,673.6 L1806.5,673.6 L1807.8,673.6 L1809.1,673.6 L1810.4,673.6 L1811.7,673.6 L1813.0,673.6 L1814.3,673.6 L1815.6,673.6 L1816.9,673.6 L1818.2,673.6 L1819.5,673.6 L1820.8,673.6 L1822.1,673.5 L1823.4,673.3 L1824.7,673.0 L1826.0,672.1 L1827.3,670.6 M1836.5,636.7 L1837.7,635.6 L1839.0,635.9 L1840.3,636.6 L1841.6,636.4 L1842.9,634.9 L1844.2,632.8 L1845.5,631.3 L1846.5,631.4 L1846.8,631.7 M1855.9,663.1 L1857.2,663.5 L1858.5,663.4 L1859.8,663.3 L1860.0,663.4 L1861.1,663.6 L1862.4,663.9 L1863.7,664.4 L1865.0,665.0 L1866.3,665.8 L1867.6,666.6 L1868.9,667.5 L1870.2,668.3 L1871.5,669.2 L1872.8,670.0 L1874.1,670.7 L1875.4,671.3 L1876.7,671.8 L1878.0,672.2 L1879.3,672.6 L1880.6,672.9 L1881.9,673.1 L1883.2,673.2 L1884.5,673.4 L1885.8,673.4 L1887.1,673.5 L1888.4,673.5 L1889.7,673.6 L1891.0,673.6 L1892.3,673.6 L1893.6,673.5 L1894.9,673.4 L1896.2,673.1 L1897.5,672.6 L1898.8,671.7 L1900.1,670.4 L1901.4,668.7 L1902.7,667.0 L1904.0,665.5 L1905.3,664.7 L1905.8,664.6 L1906.6,664.8 L1907.9,665.7 L1909.2,667.3 L1910.5,669.1 L1911.8,670.7 L1913.1,671.9 L1914.4,672.7 L1915.7,673.2 L1917.0,673.4 L1918.3,673.5 L1919.6,673.5 L1920.9,673.4 L1922.2,673.0 L1923.5,672.3 L1924.8,670.9 M1931.3,655.8 L1932.6,654.6 L1932.7,654.6 L1933.9,655.2 M1941.7,671.0 L1943.0,672.2 L1944.3,672.9 L1945.6,673.3 L1946.9,673.5 L1948.2,673.5 L1949.5,673.6 L1950.8,673.6 L1952.1,673.6 L1953.4,673.6 L1954.7,673.6 L1956.0,673.6 L1957.3,673.6 L1958.6,673.6 L1959.9,673.6 L1961.2,673.6 L1962.5,673.6 L1963.8,673.6 L1965.1,673.6 L1966.4,673.6 L1967.7,673.6 L1969.0,673.6 L1970.3,673.6 L1971.6,673.6 L1972.9,673.6 L1974.2,673.6 L1975.5,673.6 L1976.8,673.6 L1978.1,673.6 L1979.4,673.6 L1980.7,673.6 L1982.0,673.6 L1983.3,673.6 L1984.6,673.6 L1985.9,673.6 L1987.2,673.6 L1988.5,673.6 L1989.8,673.6 L1991.1,673.6 L1992.4,673.6 L1993.7,673.6 L1995.0,673.6 L1996.3,673.6 L1997.6,673.6 L1998.9,673.6 L2000.2,673.6 L2001.5,673.6 L2002.8,673.6 L2004.1,673.6 L2005.4,673.6 L2006.7,673.6 L2008.0,673.6 L2009.3,673.6 L2010.6,673.6 L2011.9,673.6 L2013.2,673.6 L2014.5,673.6 L2015.8,673.6 L2017.1,673.6 L2018.4,673.6 L2019.7,673.6 L2021.0,673.6 L2022.3,673.6 L2023.6,673.6 L2024.9,673.6 L2026.2,673.6 L2027.5,673.6 L2028.8,673.6 L2030.1,673.6 L2031.4,673.6 L2032.7,673.6 L2034.0,673.6 L2035.3,673.6 L2036.6,673.6 L2037.9,673.6 L2039.2,673.6 L2040.5,673.6 L2041.8,673.6 L2043.1,673.6 L2044.4,673.6 L2045.7,673.6 L2047.0,673.6 L2048.3,673.6 L2049.6,673.6 L2050.9,673.6 L2052.2,673.6 L2053.5,673.6 L2054.8,673.6 L2056.1,673.6 L2057.4,673.6 L2058.7,673.6 L2060.0,673.6 L2061.3,673.6 L2062.6,673.6 L2063.9,673.6 L2065.2,673.6 L2066.5,673.6 L2067.8,673.6 L2069.1,673.6 L2070.4,673.6 L2071.7,673.6 L2073.0,673.6 L2074.3,673.6 L2075.6,673.6 L2076.9,673.6 L2078.2,673.6 L2079.5,673.6 L2080.8,673.6 L2082.1,673.6 L2083.4,673.6 L2084.7,673.6 L2086.0,673.6 L2087.3,673.6 L2088.6,673.6 L2089.9,673.6 L2091.2,673.6 L2092.5,673.6 L2093.8,673.6 L2095.1,673.6 L2096.4,673.6 L2097.7,673.6 L2099.0,673.6 L2100.3,673.6 L2101.6,673.6 L2102.9,673.6 L2104.2,673.6 L2105.5,673.6 L2106.8,673.6 L2108.1,673.6 L2109.4,673.6 L2110.7,673.6 L2112.0,673.6 L2113.3,673.6 L2114.6,673.6" stroke="#0000ff" stroke-opacity="1.00" stroke-width="3.90"/></g><g filter="url(#soft2)"><rect x="157.5" y="672.8" width="82.5" height="5.40" fill="#0000ff"/><rect x="240" y="674.6" width="44" height="6.20" fill="#0000ff"/><rect x="284" y="672.8" width="29.5" height="5.40" fill="#0000ff"/><rect x="352" y="672.8" width="43" height="5.40" fill="#0000ff"/><rect x="395" y="674.6" width="26" height="6.20" fill="#0000ff"/><rect x="421" y="672.8" width="179" height="5.40" fill="#0000ff"/><rect x="1444" y="673" width="10" height="3.80" fill="#0000ff"/><rect x="1476" y="673" width="48" height="3.80" fill="#0000ff"/><rect x="1970" y="673.2" width="32" height="4.0" fill="#0000ff"/><rect x="2002" y="673.2" width="85" height="7.80" fill="#0000ff"/><rect x="2087" y="672.8" width="28" height="4.80" fill="#0000ff"/></g>
<path d="M156.7,680.4 L156.7,161.7 L2115.8,161.7 L2115.8,680.4" fill="none" stroke="#424242" stroke-width="2.4"/>
<text transform="translate(149.70,688.30) scale(0.95,1)" font-size="22.6" font-weight="bold" text-anchor="end" fill="#2a2a2a" >0</text>
<text transform="translate(2125.70,688.30) scale(0.95,1)" font-size="22.6" font-weight="bold" text-anchor="start" fill="#2a2a2a" >0</text>
<line x1="153.30" y1="652.9" x2="156.7" y2="652.9" stroke="#7a7a7a" stroke-width="2.2"/>
<line x1="2115.8" y1="652.9" x2="2119.8" y2="652.9" stroke="#c2c2c2" stroke-width="2.4"/>
<line x1="153.30" y1="627.1" x2="156.7" y2="627.1" stroke="#7a7a7a" stroke-width="2.2"/>
<line x1="2115.8" y1="627.1" x2="2119.8" y2="627.1" stroke="#c2c2c2" stroke-width="2.4"/>
<line x1="153.30" y1="601.2" x2="156.7" y2="601.2" stroke="#7a7a7a" stroke-width="2.2"/>
<line x1="2115.8" y1="601.2" x2="2119.8" y2="601.2" stroke="#c2c2c2" stroke-width="2.4"/>
<line x1="153.30" y1="575.4" x2="156.7" y2="575.4" stroke="#7a7a7a" stroke-width="2.2"/>
<line x1="2115.8" y1="575.4" x2="2119.8" y2="575.4" stroke="#c2c2c2" stroke-width="2.4"/>
<rect x="156.30" y="548.0" width="1.9" height="2.6" fill="#e8e8e8"/>
<rect x="2114.3" y="548.0" width="3" height="2.6" fill="#e8e8e8"/>
<text transform="translate(145.10,559.02) scale(0.86,1)" font-size="22.6" font-weight="bold" text-anchor="end" fill="#2a2a2a" >50</text>
<text transform="translate(2124.00,559.02) scale(0.88,1)" font-size="22.6" font-weight="bold" text-anchor="start" fill="#2a2a2a" >50</text>
<line x1="153.30" y1="523.7" x2="156.7" y2="523.7" stroke="#7a7a7a" stroke-width="2.2"/>
<line x1="2115.8" y1="523.7" x2="2119.8" y2="523.7" stroke="#c2c2c2" stroke-width="2.4"/>
<line x1="153.30" y1="497.8" x2="156.7" y2="497.8" stroke="#7a7a7a" stroke-width="2.2"/>
<line x1="2115.8" y1="497.8" x2="2119.8" y2="497.8" stroke="#c2c2c2" stroke-width="2.4"/>
<line x1="153.30" y1="472.0" x2="156.7" y2="472.0" stroke="#7a7a7a" stroke-width="2.2"/>
<line x1="2115.8" y1="472.0" x2="2119.8" y2="472.0" stroke="#c2c2c2" stroke-width="2.4"/>
<line x1="153.30" y1="446.1" x2="156.7" y2="446.1" stroke="#7a7a7a" stroke-width="2.2"/>
<line x1="2115.8" y1="446.1" x2="2119.8" y2="446.1" stroke="#c2c2c2" stroke-width="2.4"/>
<rect x="156.30" y="418.8" width="1.9" height="2.6" fill="#e8e8e8"/>
<rect x="2114.3" y="418.8" width="3" height="2.6" fill="#e8e8e8"/>
<text transform="translate(148.10,429.75) scale(0.86,1)" font-size="22.6" font-weight="bold" text-anchor="end" fill="#2a2a2a" >100</text>
<text transform="translate(2124.00,429.75) scale(0.88,1)" font-size="22.6" font-weight="bold" text-anchor="start" fill="#2a2a2a" >100</text>
<line x1="153.30" y1="394.4" x2="156.7" y2="394.4" stroke="#7a7a7a" stroke-width="2.2"/>
<line x1="2115.8" y1="394.4" x2="2119.8" y2="394.4" stroke="#c2c2c2" stroke-width="2.4"/>
<line x1="153.30" y1="368.5" x2="156.7" y2="368.5" stroke="#7a7a7a" stroke-width="2.2"/>
<line x1="2115.8" y1="368.5" x2="2119.8" y2="368.5" stroke="#c2c2c2" stroke-width="2.4"/>
<line x1="153.30" y1="342.7" x2="156.7" y2="342.7" stroke="#7a7a7a" stroke-width="2.2"/>
<line x1="2115.8" y1="342.7" x2="2119.8" y2="342.7" stroke="#c2c2c2" stroke-width="2.4"/>
<line x1="153.30" y1="316.8" x2="156.7" y2="316.8" stroke="#7a7a7a" stroke-width="2.2"/>
<line x1="2115.8" y1="316.8" x2="2119.8" y2="316.8" stroke="#c2c2c2" stroke-width="2.4"/>
<rect x="156.30" y="289.5" width="1.9" height="2.6" fill="#e8e8e8"/>
<rect x="2114.3" y="289.5" width="3" height="2.6" fill="#e8e8e8"/>
<text transform="translate(148.10,300.48) scale(0.86,1)" font-size="22.6" font-weight="bold" text-anchor="end" fill="#2a2a2a" >150</text>
<text transform="translate(2124.00,300.48) scale(0.88,1)" font-size="22.6" font-weight="bold" text-anchor="start" fill="#2a2a2a" >150</text>
<line x1="153.30" y1="265.1" x2="156.7" y2="265.1" stroke="#7a7a7a" stroke-width="2.2"/>
<line x1="2115.8" y1="265.1" x2="2119.8" y2="265.1" stroke="#c2c2c2" stroke-width="2.4"/>
<line x1="153.30" y1="239.3" x2="156.7" y2="239.3" stroke="#7a7a7a" stroke-width="2.2"/>
<line x1="2115.8" y1="239.3" x2="2119.8" y2="239.3" stroke="#c2c2c2" stroke-width="2.4"/>
<line x1="153.30" y1="213.4" x2="156.7" y2="213.4" stroke="#7a7a7a" stroke-width="2.2"/>
<line x1="2115.8" y1="213.4" x2="2119.8" y2="213.4" stroke="#c2c2c2" stroke-width="2.4"/>
<line x1="153.30" y1="187.6" x2="156.7" y2="187.6" stroke="#7a7a7a" stroke-width="2.2"/>
<line x1="2115.8" y1="187.6" x2="2119.8" y2="187.6" stroke="#c2c2c2" stroke-width="2.4"/>
<text transform="translate(148.10,171.20) scale(0.86,1)" font-size="22.6" font-weight="bold" text-anchor="end" fill="#2a2a2a" >200</text>
<text transform="translate(2124.00,171.20) scale(0.88,1)" font-size="22.6" font-weight="bold" text-anchor="start" fill="#2a2a2a" >200</text>
<text transform="translate(156.80,711.20) scale(0.82,1)" font-size="23" font-weight="bold" text-anchor="middle" fill="#2a2a2a" >6</text>
<text transform="translate(238.52,711.20) scale(0.82,1)" font-size="23" font-weight="bold" text-anchor="middle" fill="#2a2a2a" >7</text>
<text transform="translate(320.24,711.20) scale(0.82,1)" font-size="23" font-weight="bold" text-anchor="middle" fill="#2a2a2a" >8</text>
<text transform="translate(401.96,711.20) scale(0.82,1)" font-size="23" font-weight="bold" text-anchor="middle" fill="#2a2a2a" >9</text>
<text transform="translate(484.68,711.20) scale(0.82,1)" font-size="23" font-weight="bold" text-anchor="middle" fill="#2a2a2a" >10</text>
<text transform="translate(566.40,711.20) scale(0.82,1)" font-size="23" font-weight="bold" text-anchor="middle" fill="#2a2a2a" >11</text>
<text transform="translate(648.12,711.20) scale(0.82,1)" font-size="23" font-weight="bold" text-anchor="middle" fill="#2a2a2a" >12</text>
<text transform="translate(729.84,711.20) scale(0.82,1)" font-size="23" font-weight="bold" text-anchor="middle" fill="#2a2a2a" >13</text>
<text transform="translate(811.56,711.20) scale(0.82,1)" font-size="23" font-weight="bold" text-anchor="middle" fill="#2a2a2a" >14</text>
<text transform="translate(893.28,711.20) scale(0.82,1)" font-size="23" font-weight="bold" text-anchor="middle" fill="#2a2a2a" >15</text>
<text transform="translate(975.00,711.20) scale(0.82,1)" font-size="23" font-weight="bold" text-anchor="middle" fill="#2a2a2a" >16</text>
<text transform="translate(1056.72,711.20) scale(0.82,1)" font-size="23" font-weight="bold" text-anchor="middle" fill="#2a2a2a" >17</text>
<text transform="translate(1138.44,711.20) scale(0.82,1)" font-size="23" font-weight="bold" text-anchor="middle" fill="#2a2a2a" >18</text>
<text transform="translate(1220.16,711.20) scale(0.82,1)" font-size="23" font-weight="bold" text-anchor="middle" fill="#2a2a2a" >19</text>
<text transform="translate(1301.88,711.20) scale(0.82,1)" font-size="23" font-weight="bold" text-anchor="middle" fill="#2a2a2a" >20</text>
<text transform="translate(1383.60,711.20) scale(0.82,1)" font-size="23" font-weight="bold" text-anchor="middle" fill="#2a2a2a" >21</text>
<text transform="translate(1465.32,711.20) scale(0.82,1)" font-size="23" font-weight="bold" text-anchor="middle" fill="#2a2a2a" >22</text>
<text transform="translate(1547.04,711.20) scale(0.82,1)" font-size="23" font-weight="bold" text-anchor="middle" fill="#2a2a2a" >23</text>
<text transform="translate(1628.76,711.20) scale(0.82,1)" font-size="23" font-weight="bold" text-anchor="middle" fill="#2a2a2a" >24</text>
<text transform="translate(1710.48,711.20) scale(0.82,1)" font-size="23" font-weight="bold" text-anchor="middle" fill="#2a2a2a" >25</text>
<text transform="translate(1792.20,711.20) scale(0.82,1)" font-size="23" font-weight="bold" text-anchor="middle" fill="#2a2a2a" >26</text>
<text transform="translate(1872.92,711.20) scale(0.82,1)" font-size="23" font-weight="bold" text-anchor="middle" fill="#2a2a2a" >27</text>
<text transform="translate(1954.64,711.20) scale(0.82,1)" font-size="23" font-weight="bold" text-anchor="middle" fill="#2a2a2a" >28</text>
<text transform="translate(2036.36,711.20) scale(0.82,1)" font-size="23" font-weight="bold" text-anchor="middle" fill="#2a2a2a" >29</text>
<text transform="translate(2118.08,711.20) scale(0.82,1)" font-size="23" font-weight="bold" text-anchor="middle" fill="#2a2a2a" >30</text>
<text transform="translate(1146.20,739.60) scale(0.90,1)" font-size="22.5" font-weight="bold" text-anchor="middle" fill="#3c3c3c" >Minutes</text>
<text transform="translate(94.40,409.00) rotate(-90) scale(0.98,1)" font-size="23.5" font-weight="bold" text-anchor="middle" fill="#2c2c2c" >mAU</text>
<text transform="translate(2206.00,409.00) rotate(-90) scale(0.98,1)" font-size="23.5" font-weight="bold" text-anchor="middle" fill="#2c2c2c" >mAU</text>
<text transform="translate(327.70,320.20) scale(0.86,1)" font-size="27.4" font-weight="bold" text-anchor="middle" fill="#1c1c1c" >1</text>
<text transform="translate(353.60,352.70) scale(0.86,1)" font-size="27.4" font-weight="bold" text-anchor="middle" fill="#1c1c1c" >2</text>
<text transform="translate(694.80,514.80) scale(0.86,1)" font-size="27.4" font-weight="bold" text-anchor="middle" fill="#1c1c1c" >3</text>
<text transform="translate(830.00,454.80) scale(0.86,1)" font-size="27.4" font-weight="bold" text-anchor="middle" fill="#1c1c1c" >4</text>
<text transform="translate(847.80,458.80) scale(0.86,1)" font-size="27.4" font-weight="bold" text-anchor="middle" fill="#1c1c1c" >5</text>
<text transform="translate(888.00,436.80) scale(0.86,1)" font-size="27.4" font-weight="bold" text-anchor="middle" fill="#1c1c1c" >6</text>
<text transform="translate(987.00,436.80) scale(0.86,1)" font-size="27.4" font-weight="bold" text-anchor="middle" fill="#1c1c1c" >7</text>
<text transform="translate(1025.00,489.50) scale(0.86,1)" font-size="27.4" font-weight="bold" text-anchor="middle" fill="#1c1c1c" >8</text>
<text transform="translate(1065.40,436.30) scale(0.86,1)" font-size="27.4" font-weight="bold" text-anchor="middle" fill="#1c1c1c" >9</text>
<text transform="translate(1089.00,436.80) scale(0.86,1)" font-size="27.4" font-weight="bold" text-anchor="middle" fill="#1c1c1c" >10</text>
<text transform="translate(1138.50,381.80) scale(0.86,1)" font-size="27.4" font-weight="bold" text-anchor="middle" fill="#1c1c1c" >11</text>
<text transform="translate(1311.50,430.80) scale(0.86,1)" font-size="27.4" font-weight="bold" text-anchor="middle" fill="#1c1c1c" >12</text>
<text transform="translate(1356.30,517.80) scale(0.86,1)" font-size="27.4" font-weight="bold" text-anchor="middle" fill="#1c1c1c" >13</text>
<text transform="translate(1535.30,490.80) scale(0.86,1)" font-size="27.4" font-weight="bold" text-anchor="middle" fill="#1c1c1c" >14</text>
<text transform="translate(1564.30,435.80) scale(0.86,1)" font-size="27.4" font-weight="bold" text-anchor="middle" fill="#1c1c1c" >15</text>
<text transform="translate(1733.60,362.40) scale(0.86,1)" font-size="27.4" font-weight="bold" text-anchor="middle" fill="#1c1c1c" >16</text>
<text transform="translate(1757.70,505.80) scale(0.86,1)" font-size="27.4" font-weight="bold" text-anchor="middle" fill="#1c1c1c" >17</text>
<text x="1981.8" y="236.8" font-size="64.5" font-weight="bold" fill="#111" textLength="99.00" lengthAdjust="spacingAndGlyphs">STD</text>
</g>
<g>
<line x1="156.7" y1="1355.40" x2="2115.8" y2="1355.40" stroke="#c4c4c4" stroke-width="2.6"/>
<line x1="156.7" y1="1355.40" x2="2115.8" y2="1355.40" stroke="#6e6e6e" stroke-width="2.2" stroke-dasharray="5.4 2.6"/>
<line x1="156.4" y1="1356.8" x2="156.4" y2="1359.0" stroke="#eeeeee" stroke-width="1.8"/>
<line x1="164.6" y1="1356.8" x2="164.6" y2="1359.0" stroke="#eeeeee" stroke-width="1.8"/>
<line x1="172.8" y1="1356.8" x2="172.8" y2="1359.0" stroke="#eeeeee" stroke-width="1.8"/>
<line x1="180.9" y1="1356.8" x2="180.9" y2="1359.0" stroke="#eeeeee" stroke-width="1.8"/>
<line x1="189.1" y1="1356.8" x2="189.1" y2="1359.0" stroke="#eeeeee" stroke-width="1.8"/>
<line x1="197.2" y1="1357.1" x2="197.2" y2="1364.0" stroke="#d6d6d6" stroke-width="2.2"/>
<line x1="205.3" y1="1356.8" x2="205.3" y2="1359.0" stroke="#eeeeee" stroke-width="1.8"/>
<line x1="213.5" y1="1356.8" x2="213.5" y2="1359.0" stroke="#eeeeee" stroke-width="1.8"/>
<line x1="221.6" y1="1356.8" x2="221.6" y2="1359.0" stroke="#eeeeee" stroke-width="1.8"/>
<line x1="229.8" y1="1356.8" x2="229.8" y2="1359.0" stroke="#eeeeee" stroke-width="1.8"/>
<line x1="237.9" y1="1356.8" x2="237.9" y2="1359.0" stroke="#eeeeee" stroke-width="1.8"/>
<line x1="246.1" y1="1356.8" x2="246.1" y2="1359.0" stroke="#eeeeee" stroke-width="1.8"/>
<line x1="254.2" y1="1356.8" x2="254.2" y2="1359.0" stroke="#eeeeee" stroke-width="1.8"/>
<line x1="262.4" y1="1356.8" x2="262.4" y2="1359.0" stroke="#eeeeee" stroke-width="1.8"/>
<line x1="270.6" y1="1356.8" x2="270.6" y2="1359.0" stroke="#eeeeee" stroke-width="1.8"/>
<line x1="278.7" y1="1357.1" x2="278.7" y2="1364.0" stroke="#d6d6d6" stroke-width="2.2"/>
<line x1="286.8" y1="1356.8" x2="286.8" y2="1359.0" stroke="#eeeeee" stroke-width="1.8"/>
<line x1="295.0" y1="1356.8" x2="295.0" y2="1359.0" stroke="#eeeeee" stroke-width="1.8"/>
<line x1="303.1" y1="1356.8" x2="303.1" y2="1359.0" stroke="#eeeeee" stroke-width="1.8"/>
<line x1="311.3" y1="1356.8" x2="311.3" y2="1359.0" stroke="#eeeeee" stroke-width="1.8"/>
<line x1="319.4" y1="1356.8" x2="319.4" y2="1359.0" stroke="#eeeeee" stroke-width="1.8"/>
<line x1="327.6" y1="1356.8" x2="327.6" y2="1359.0" stroke="#eeeeee" stroke-width="1.8"/>
<line x1="335.7" y1="1356.8" x2="335.7" y2="1359.0" stroke="#eeeeee" stroke-width="1.8"/>
<line x1="343.9" y1="1356.8" x2="343.9" y2="1359.0" stroke="#eeeeee" stroke-width="1.8"/>
<line x1="352.1" y1="1356.8" x2="352.1" y2="1359.0" stroke="#eeeeee" stroke-width="1.8"/>
<line x1="360.2" y1="1357.1" x2="360.2" y2="1364.0" stroke="#d6d6d6" stroke-width="2.2"/>
<line x1="368.3" y1="1356.8" x2="368.3" y2="1359.0" stroke="#eeeeee" stroke-width="1.8"/>
<line x1="376.5" y1="1356.8" x2="376.5" y2="1359.0" stroke="#eeeeee" stroke-width="1.8"/>
<line x1="384.7" y1="1356.8" x2="384.7" y2="1359.0" stroke="#eeeeee" stroke-width="1.8"/>
<line x1="392.8" y1="1356.8" x2="392.8" y2="1359.0" stroke="#eeeeee" stroke-width="1.8"/>
<line x1="400.9" y1="1356.8" x2="400.9" y2="1359.0" stroke="#eeeeee" stroke-width="1.8"/>
<line x1="409.1" y1="1356.8" x2="409.1" y2="1359.0" stroke="#eeeeee" stroke-width="1.8"/>
<line x1="417.2" y1="1356.8" x2="417.2" y2="1359.0" stroke="#eeeeee" stroke-width="1.8"/>
<line x1="425.4" y1="1356.8" x2="425.4" y2="1359.0" stroke="#eeeeee" stroke-width="1.8"/>
<line x1="433.6" y1="1356.8" x2="433.6" y2="1359.0" stroke="#eeeeee" stroke-width="1.8"/>
<line x1="441.7" y1="1357.1" x2="441.7" y2="1364.0" stroke="#d6d6d6" stroke-width="2.2"/>
<line x1="449.8" y1="1356.8" x2="449.8" y2="1359.0" stroke="#eeeeee" stroke-width="1.8"/>
<line x1="458.0" y1="1356.8" x2="458.0" y2="1359.0" stroke="#eeeeee" stroke-width="1.8"/>
<line x1="466.2" y1="1356.8" x2="466.2" y2="1359.0" stroke="#eeeeee" stroke-width="1.8"/>
<line x1="474.3" y1="1356.8" x2="474.3" y2="1359.0" stroke="#eeeeee" stroke-width="1.8"/>
<line x1="482.4" y1="1356.8" x2="482.4" y2="1359.0" stroke="#eeeeee" stroke-width="1.8"/>
<line x1="490.6" y1="1356.8" x2="490.6" y2="1359.0" stroke="#eeeeee" stroke-width="1.8"/>
<line x1="498.7" y1="1356.8" x2="498.7" y2="1359.0" stroke="#eeeeee" stroke-width="1.8"/>
<line x1="506.9" y1="1356.8" x2="506.9" y2="1359.0" stroke="#eeeeee" stroke-width="1.8"/>
<line x1="515.0" y1="1356.8" x2="515.0" y2="1359.0" stroke="#eeeeee" stroke-width="1.8"/>
<line x1="523.2" y1="1357.1" x2="523.2" y2="1364.0" stroke="#d6d6d6" stroke-width="2.2"/>
<line x1="531.3" y1="1356.8" x2="531.3" y2="1359.0" stroke="#eeeeee" stroke-width="1.8"/>
<line x1="539.5" y1="1356.8" x2="539.5" y2="1359.0" stroke="#eeeeee" stroke-width="1.8"/>
<line x1="547.7" y1="1356.8" x2="547.7" y2="1359.0" stroke="#eeeeee" stroke-width="1.8"/>
<line x1="555.8" y1="1356.8" x2="555.8" y2="1359.0" stroke="#eeeeee" stroke-width="1.8"/>
<line x1="564.0" y1="1356.8" x2="564.0" y2="1359.0" stroke="#eeeeee" stroke-width="1.8"/>
<line x1="572.1" y1="1356.8" x2="572.1" y2="1359.0" stroke="#eeeeee" stroke-width="1.8"/>
<line x1="580.2" y1="1356.8" x2="580.2" y2="1359.0" stroke="#eeeeee" stroke-width="1.8"/>
<line x1="588.4" y1="1356.8" x2="588.4" y2="1359.0" stroke="#eeeeee" stroke-width="1.8"/>
<line x1="596.5" y1="1356.8" x2="596.5" y2="1359.0" stroke="#eeeeee" stroke-width="1.8"/>
<line x1="604.7" y1="1357.1" x2="604.7" y2="1364.0" stroke="#d6d6d6" stroke-width="2.2"/>
<line x1="612.8" y1="1356.8" x2="612.8" y2="1359.0" stroke="#eeeeee" stroke-width="1.8"/>
<line x1="621.0" y1="1356.8" x2="621.0" y2="1359.0" stroke="#eeeeee" stroke-width="1.8"/>
<line x1="629.2" y1="1356.8" x2="629.2" y2="1359.0" stroke="#eeeeee" stroke-width="1.8"/>
<line x1="637.3" y1="1356.8" x2="637.3" y2="1359.0" stroke="#eeeeee" stroke-width="1.8"/>
<line x1="645.5" y1="1356.8" x2="645.5" y2="1359.0" stroke="#eeeeee" stroke-width="1.8"/>
<line x1="653.6" y1="1356.8" x2="653.6" y2="1359.0" stroke="#eeeeee" stroke-width="1.8"/>
<line x1="661.8" y1="1356.8" x2="661.8" y2="1359.0" stroke="#eeeeee" stroke-width="1.8"/>
<line x1="669.9" y1="1356.8" x2="669.9" y2="1359.0" stroke="#eeeeee" stroke-width="1.8"/>
<line x1="678.0" y1="1356.8" x2="678.0" y2="1359.0" stroke="#eeeeee" stroke-width="1.8"/>
<line x1="686.2" y1="1357.1" x2="686.2" y2="1364.0" stroke="#d6d6d6" stroke-width="2.2"/>
<line x1="694.3" y1="1356.8" x2="694.3" y2="1359.0" stroke="#eeeeee" stroke-width="1.8"/>
<line x1="702.5" y1="1356.8" x2="702.5" y2="1359.0" stroke="#eeeeee" stroke-width="1.8"/>
<line x1="710.7" y1="1356.8" x2="710.7" y2="1359.0" stroke="#eeeeee" stroke-width="1.8"/>
<line x1="718.8" y1="1356.8" x2="718.8" y2="1359.0" stroke="#eeeeee" stroke-width="1.8"/>
<line x1="727.0" y1="1356.8" x2="727.0" y2="1359.0" stroke="#eeeeee" stroke-width="1.8"/>
<line x1="735.1" y1="1356.8" x2="735.1" y2="1359.0" stroke="#eeeeee" stroke-width="1.8"/>
<line x1="743.2" y1="1356.8" x2="743.2" y2="1359.0" stroke="#eeeeee" stroke-width="1.8"/>
<line x1="751.4" y1="1356.8" x2="751.4" y2="1359.0" stroke="#eeeeee" stroke-width="1.8"/>
<line x1="759.5" y1="1356.8" x2="759.5" y2="1359.0" stroke="#eeeeee" stroke-width="1.8"/>
<line x1="767.7" y1="1357.1" x2="767.7" y2="1364.0" stroke="#d6d6d6" stroke-width="2.2"/>
<line x1="775.8" y1="1356.8" x2="775.8" y2="1359.0" stroke="#eeeeee" stroke-width="1.8"/>
<line x1="784.0" y1="1356.8" x2="784.0" y2="1359.0" stroke="#eeeeee" stroke-width="1.8"/>
<line x1="792.2" y1="1356.8" x2="792.2" y2="1359.0" stroke="#eeeeee" stroke-width="1.8"/>
<line x1="800.3" y1="1356.8" x2="800.3" y2="1359.0" stroke="#eeeeee" stroke-width="1.8"/>
<line x1="808.5" y1="1356.8" x2="808.5" y2="1359.0" stroke="#eeeeee" stroke-width="1.8"/>
<line x1="816.6" y1="1356.8" x2="816.6" y2="1359.0" stroke="#eeeeee" stroke-width="1.8"/>
<line x1="824.8" y1="1356.8" x2="824.8" y2="1359.0" stroke="#eeeeee" stroke-width="1.8"/>
<line x1="832.9" y1="1356.8" x2="832.9" y2="1359.0" stroke="#eeeeee" stroke-width="1.8"/>
<line x1="841.0" y1="1356.8" x2="841.0" y2="1359.0" stroke="#eeeeee" stroke-width="1.8"/>
<line x1="849.2" y1="1357.1" x2="849.2" y2="1364.0" stroke="#d6d6d6" stroke-width="2.2"/>
<line x1="857.3" y1="1356.8" x2="857.3" y2="1359.0" stroke="#eeeeee" stroke-width="1.8"/>
<line x1="865.5" y1="1356.8" x2="865.5" y2="1359.0" stroke="#eeeeee" stroke-width="1.8"/>
<line x1="873.7" y1="1356.8" x2="873.7" y2="1359.0" stroke="#eeeeee" stroke-width="1.8"/>
<line x1="881.8" y1="1356.8" x2="881.8" y2="1359.0" stroke="#eeeeee" stroke-width="1.8"/>
<line x1="890.0" y1="1356.8" x2="890.0" y2="1359.0" stroke="#eeeeee" stroke-width="1.8"/>
<line x1="898.1" y1="1356.8" x2="898.1" y2="1359.0" stroke="#eeeeee" stroke-width="1.8"/>
<line x1="906.2" y1="1356.8" x2="906.2" y2="1359.0" stroke="#eeeeee" stroke-width="1.8"/>
<line x1="914.4" y1="1356.8" x2="914.4" y2="1359.0" stroke="#eeeeee" stroke-width="1.8"/>
<line x1="922.5" y1="1356.8" x2="922.5" y2="1359.0" stroke="#eeeeee" stroke-width="1.8"/>
<line x1="930.7" y1="1357.1" x2="930.7" y2="1364.0" stroke="#d6d6d6" stroke-width="2.2"/>
<line x1="938.8" y1="1356.8" x2="938.8" y2="1359.0" stroke="#eeeeee" stroke-width="1.8"/>
<line x1="947.0" y1="1356.8" x2="947.0" y2="1359.0" stroke="#eeeeee" stroke-width="1.8"/>
<line x1="955.2" y1="1356.8" x2="955.2" y2="1359.0" stroke="#eeeeee" stroke-width="1.8"/>
<line x1="963.3" y1="1356.8" x2="963.3" y2="1359.0" stroke="#eeeeee" stroke-width="1.8"/>
<line x1="971.5" y1="1356.8" x2="971.5" y2="1359.0" stroke="#eeeeee" stroke-width="1.8"/>
<line x1="979.6" y1="1356.8" x2="979.6" y2="1359.0" stroke="#eeeeee" stroke-width="1.8"/>
<line x1="987.8" y1="1356.8" x2="987.8" y2="1359.0" stroke="#eeeeee" stroke-width="1.8"/>
<line x1="995.9" y1="1356.8" x2="995.9" y2="1359.0" stroke="#eeeeee" stroke-width="1.8"/>
<line x1="1004.0" y1="1356.8" x2="1004.0" y2="1359.0" stroke="#eeeeee" stroke-width="1.8"/>
<line x1="1012.2" y1="1357.1" x2="1012.2" y2="1364.0" stroke="#d6d6d6" stroke-width="2.2"/>
<line x1="1020.4" y1="1356.8" x2="1020.4" y2="1359.0" stroke="#eeeeee" stroke-width="1.8"/>
<line x1="1028.5" y1="1356.8" x2="1028.5" y2="1359.0" stroke="#eeeeee" stroke-width="1.8"/>
<line x1="1036.7" y1="1356.8" x2="1036.7" y2="1359.0" stroke="#eeeeee" stroke-width="1.8"/>
<line x1="1044.8" y1="1356.8" x2="1044.8" y2="1359.0" stroke="#eeeeee" stroke-width="1.8"/>
<line x1="1053.0" y1="1356.8" x2="1053.0" y2="1359.0" stroke="#eeeeee" stroke-width="1.8"/>
<line x1="1061.1" y1="1356.8" x2="1061.1" y2="1359.0" stroke="#eeeeee" stroke-width="1.8"/>
<line x1="1069.2" y1="1356.8" x2="1069.2" y2="1359.0" stroke="#eeeeee" stroke-width="1.8"/>
<line x1="1077.4" y1="1356.8" x2="1077.4" y2="1359.0" stroke="#eeeeee" stroke-width="1.8"/>
<line x1="1085.5" y1="1356.8" x2="1085.5" y2="1359.0" stroke="#eeeeee" stroke-width="1.8"/>
<line x1="1093.7" y1="1357.1" x2="1093.7" y2="1364.0" stroke="#d6d6d6" stroke-width="2.2"/>
<line x1="1101.9" y1="1356.8" x2="1101.9" y2="1359.0" stroke="#eeeeee" stroke-width="1.8"/>
<line x1="1110.0" y1="1356.8" x2="1110.0" y2="1359.0" stroke="#eeeeee" stroke-width="1.8"/>
<line x1="1118.2" y1="1356.8" x2="1118.2" y2="1359.0" stroke="#eeeeee" stroke-width="1.8"/>
<line x1="1126.3" y1="1356.8" x2="1126.3" y2="1359.0" stroke="#eeeeee" stroke-width="1.8"/>
<line x1="1134.5" y1="1356.8" x2="1134.5" y2="1359.0" stroke="#eeeeee" stroke-width="1.8"/>
<line x1="1142.6" y1="1356.8" x2="1142.6" y2="1359.0" stroke="#eeeeee" stroke-width="1.8"/>
<line x1="1150.8" y1="1356.8" x2="1150.8" y2="1359.0" stroke="#eeeeee" stroke-width="1.8"/>
<line x1="1158.9" y1="1356.8" x2="1158.9" y2="1359.0" stroke="#eeeeee" stroke-width="1.8"/>
<line x1="1167.0" y1="1356.8" x2="1167.0" y2="1359.0" stroke="#eeeeee" stroke-width="1.8"/>
<line x1="1175.2" y1="1357.1" x2="1175.2" y2="1364.0" stroke="#d6d6d6" stroke-width="2.2"/>
<line x1="1183.4" y1="1356.8" x2="1183.4" y2="1359.0" stroke="#eeeeee" stroke-width="1.8"/>
<line x1="1191.5" y1="1356.8" x2="1191.5" y2="1359.0" stroke="#eeeeee" stroke-width="1.8"/>
<line x1="1199.7" y1="1356.8" x2="1199.7" y2="1359.0" stroke="#eeeeee" stroke-width="1.8"/>
<line x1="1207.8" y1="1356.8" x2="1207.8" y2="1359.0" stroke="#eeeeee" stroke-width="1.8"/>
<line x1="1216.0" y1="1356.8" x2="1216.0" y2="1359.0" stroke="#eeeeee" stroke-width="1.8"/>
<line x1="1224.1" y1="1356.8" x2="1224.1" y2="1359.0" stroke="#eeeeee" stroke-width="1.8"/>
<line x1="1232.2" y1="1356.8" x2="1232.2" y2="1359.0" stroke="#eeeeee" stroke-width="1.8"/>
<line x1="1240.4" y1="1356.8" x2="1240.4" y2="1359.0" stroke="#eeeeee" stroke-width="1.8"/>
<line x1="1248.5" y1="1356.8" x2="1248.5" y2="1359.0" stroke="#eeeeee" stroke-width="1.8"/>
<line x1="1256.7" y1="1357.1" x2="1256.7" y2="1364.0" stroke="#d6d6d6" stroke-width="2.2"/>
<line x1="1264.9" y1="1356.8" x2="1264.9" y2="1359.0" stroke="#eeeeee" stroke-width="1.8"/>
<line x1="1273.0" y1="1356.8" x2="1273.0" y2="1359.0" stroke="#eeeeee" stroke-width="1.8"/>
<line x1="1281.2" y1="1356.8" x2="1281.2" y2="1359.0" stroke="#eeeeee" stroke-width="1.8"/>
<line x1="1289.3" y1="1356.8" x2="1289.3" y2="1359.0" stroke="#eeeeee" stroke-width="1.8"/>
<line x1="1297.5" y1="1356.8" x2="1297.5" y2="1359.0" stroke="#eeeeee" stroke-width="1.8"/>
<line x1="1305.6" y1="1356.8" x2="1305.6" y2="1359.0" stroke="#eeeeee" stroke-width="1.8"/>
<line x1="1313.8" y1="1356.8" x2="1313.8" y2="1359.0" stroke="#eeeeee" stroke-width="1.8"/>
<line x1="1321.9" y1="1356.8" x2="1321.9" y2="1359.0" stroke="#eeeeee" stroke-width="1.8"/>
<line x1="1330.0" y1="1356.8" x2="1330.0" y2="1359.0" stroke="#eeeeee" stroke-width="1.8"/>
<line x1="1338.2" y1="1357.1" x2="1338.2" y2="1364.0" stroke="#d6d6d6" stroke-width="2.2"/>
<line x1="1346.4" y1="1356.8" x2="1346.4" y2="1359.0" stroke="#eeeeee" stroke-width="1.8"/>
<line x1="1354.5" y1="1356.8" x2="1354.5" y2="1359.0" stroke="#eeeeee" stroke-width="1.8"/>
<line x1="1362.7" y1="1356.8" x2="1362.7" y2="1359.0" stroke="#eeeeee" stroke-width="1.8"/>
<line x1="1370.8" y1="1356.8" x2="1370.8" y2="1359.0" stroke="#eeeeee" stroke-width="1.8"/>
<line x1="1379.0" y1="1356.8" x2="1379.0" y2="1359.0" stroke="#eeeeee" stroke-width="1.8"/>
<line x1="1387.1" y1="1356.8" x2="1387.1" y2="1359.0" stroke="#eeeeee" stroke-width="1.8"/>
<line x1="1395.2" y1="1356.8" x2="1395.2" y2="1359.0" stroke="#eeeeee" stroke-width="1.8"/>
<line x1="1403.4" y1="1356.8" x2="1403.4" y2="1359.0" stroke="#eeeeee" stroke-width="1.8"/>
<line x1="1411.5" y1="1356.8" x2="1411.5" y2="1359.0" stroke="#eeeeee" stroke-width="1.8"/>
<line x1="1419.7" y1="1357.1" x2="1419.7" y2="1364.0" stroke="#d6d6d6" stroke-width="2.2"/>
<line x1="1427.9" y1="1356.8" x2="1427.9" y2="1359.0" stroke="#eeeeee" stroke-width="1.8"/>
<line x1="1436.0" y1="1356.8" x2="1436.0" y2="1359.0" stroke="#eeeeee" stroke-width="1.8"/>
<line x1="1444.2" y1="1356.8" x2="1444.2" y2="1359.0" stroke="#eeeeee" stroke-width="1.8"/>
<line x1="1452.3" y1="1356.8" x2="1452.3" y2="1359.0" stroke="#eeeeee" stroke-width="1.8"/>
<line x1="1460.5" y1="1356.8" x2="1460.5" y2="1359.0" stroke="#eeeeee" stroke-width="1.8"/>
<line x1="1468.6" y1="1356.8" x2="1468.6" y2="1359.0" stroke="#eeeeee" stroke-width="1.8"/>
<line x1="1476.8" y1="1356.8" x2="1476.8" y2="1359.0" stroke="#eeeeee" stroke-width="1.8"/>
<line x1="1484.9" y1="1356.8" x2="1484.9" y2="1359.0" stroke="#eeeeee" stroke-width="1.8"/>
<line x1="1493.0" y1="1356.8" x2="1493.0" y2="1359.0" stroke="#eeeeee" stroke-width="1.8"/>
<line x1="1501.2" y1="1357.1" x2="1501.2" y2="1364.0" stroke="#d6d6d6" stroke-width="2.2"/>
<line x1="1509.4" y1="1356.8" x2="1509.4" y2="1359.0" stroke="#eeeeee" stroke-width="1.8"/>
<line x1="1517.5" y1="1356.8" x2="1517.5" y2="1359.0" stroke="#eeeeee" stroke-width="1.8"/>
<line x1="1525.7" y1="1356.8" x2="1525.7" y2="1359.0" stroke="#eeeeee" stroke-width="1.8"/>
<line x1="1533.8" y1="1356.8" x2="1533.8" y2="1359.0" stroke="#eeeeee" stroke-width="1.8"/>
<line x1="1542.0" y1="1356.8" x2="1542.0" y2="1359.0" stroke="#eeeeee" stroke-width="1.8"/>
<line x1="1550.1" y1="1356.8" x2="1550.1" y2="1359.0" stroke="#eeeeee" stroke-width="1.8"/>
<line x1="1558.2" y1="1356.8" x2="1558.2" y2="1359.0" stroke="#eeeeee" stroke-width="1.8"/>
<line x1="1566.4" y1="1356.8" x2="1566.4" y2="1359.0" stroke="#eeeeee" stroke-width="1.8"/>
<line x1="1574.5" y1="1356.8" x2="1574.5" y2="1359.0" stroke="#eeeeee" stroke-width="1.8"/>
<line x1="1582.7" y1="1357.1" x2="1582.7" y2="1364.0" stroke="#d6d6d6" stroke-width="2.2"/>
<line x1="1590.9" y1="1356.8" x2="1590.9" y2="1359.0" stroke="#eeeeee" stroke-width="1.8"/>
<line x1="1599.0" y1="1356.8" x2="1599.0" y2="1359.0" stroke="#eeeeee" stroke-width="1.8"/>
<line x1="1607.2" y1="1356.8" x2="1607.2" y2="1359.0" stroke="#eeeeee" stroke-width="1.8"/>
<line x1="1615.3" y1="1356.8" x2="1615.3" y2="1359.0" stroke="#eeeeee" stroke-width="1.8"/>
<line x1="1623.5" y1="1356.8" x2="1623.5" y2="1359.0" stroke="#eeeeee" stroke-width="1.8"/>
<line x1="1631.6" y1="1356.8" x2="1631.6" y2="1359.0" stroke="#eeeeee" stroke-width="1.8"/>
<line x1="1639.8" y1="1356.8" x2="1639.8" y2="1359.0" stroke="#eeeeee" stroke-width="1.8"/>
<line x1="1647.9" y1="1356.8" x2="1647.9" y2="1359.0" stroke="#eeeeee" stroke-width="1.8"/>
<line x1="1656.0" y1="1356.8" x2="1656.0" y2="1359.0" stroke="#eeeeee" stroke-width="1.8"/>
<line x1="1664.2" y1="1357.1" x2="1664.2" y2="1364.0" stroke="#d6d6d6" stroke-width="2.2"/>
<line x1="1672.4" y1="1356.8" x2="1672.4" y2="1359.0" stroke="#eeeeee" stroke-width="1.8"/>
<line x1="1680.5" y1="1356.8" x2="1680.5" y2="1359.0" stroke="#eeeeee" stroke-width="1.8"/>
<line x1="1688.7" y1="1356.8" x2="1688.7" y2="1359.0" stroke="#eeeeee" stroke-width="1.8"/>
<line x1="1696.8" y1="1356.8" x2="1696.8" y2="1359.0" stroke="#eeeeee" stroke-width="1.8"/>
<line x1="1705.0" y1="1356.8" x2="1705.0" y2="1359.0" stroke="#eeeeee" stroke-width="1.8"/>
<line x1="1713.1" y1="1356.8" x2="1713.1" y2="1359.0" stroke="#eeeeee" stroke-width="1.8"/>
<line x1="1721.2" y1="1356.8" x2="1721.2" y2="1359.0" stroke="#eeeeee" stroke-width="1.8"/>
<line x1="1729.4" y1="1356.8" x2="1729.4" y2="1359.0" stroke="#eeeeee" stroke-width="1.8"/>
<line x1="1737.5" y1="1356.8" x2="1737.5" y2="1359.0" stroke="#eeeeee" stroke-width="1.8"/>
<line x1="1745.7" y1="1357.1" x2="1745.7" y2="1364.0" stroke="#d6d6d6" stroke-width="2.2"/>
<line x1="1753.9" y1="1356.8" x2="1753.9" y2="1359.0" stroke="#eeeeee" stroke-width="1.8"/>
<line x1="1762.0" y1="1356.8" x2="1762.0" y2="1359.0" stroke="#eeeeee" stroke-width="1.8"/>
<line x1="1770.2" y1="1356.8" x2="1770.2" y2="1359.0" stroke="#eeeeee" stroke-width="1.8"/>
<line x1="1778.3" y1="1356.8" x2="1778.3" y2="1359.0" stroke="#eeeeee" stroke-width="1.8"/>
<line x1="1786.5" y1="1356.8" x2="1786.5" y2="1359.0" stroke="#eeeeee" stroke-width="1.8"/>
<line x1="1794.6" y1="1356.8" x2="1794.6" y2="1359.0" stroke="#eeeeee" stroke-width="1.8"/>
<line x1="1802.8" y1="1356.8" x2="1802.8" y2="1359.0" stroke="#eeeeee" stroke-width="1.8"/>
<line x1="1810.9" y1="1356.8" x2="1810.9" y2="1359.0" stroke="#eeeeee" stroke-width="1.8"/>
<line x1="1819.0" y1="1356.8" x2="1819.0" y2="1359.0" stroke="#eeeeee" stroke-width="1.8"/>
<line x1="1827.2" y1="1357.1" x2="1827.2" y2="1364.0" stroke="#d6d6d6" stroke-width="2.2"/>
<line x1="1835.4" y1="1356.8" x2="1835.4" y2="1359.0" stroke="#eeeeee" stroke-width="1.8"/>
<line x1="1843.5" y1="1356.8" x2="1843.5" y2="1359.0" stroke="#eeeeee" stroke-width="1.8"/>
<line x1="1851.7" y1="1356.8" x2="1851.7" y2="1359.0" stroke="#eeeeee" stroke-width="1.8"/>
<line x1="1859.8" y1="1356.8" x2="1859.8" y2="1359.0" stroke="#eeeeee" stroke-width="1.8"/>
<line x1="1868.0" y1="1356.8" x2="1868.0" y2="1359.0" stroke="#eeeeee" stroke-width="1.8"/>
<line x1="1876.1" y1="1356.8" x2="1876.1" y2="1359.0" stroke="#eeeeee" stroke-width="1.8"/>
<line x1="1884.2" y1="1356.8" x2="1884.2" y2="1359.0" stroke="#eeeeee" stroke-width="1.8"/>
<line x1="1892.4" y1="1356.8" x2="1892.4" y2="1359.0" stroke="#eeeeee" stroke-width="1.8"/>
<line x1="1900.5" y1="1356.8" x2="1900.5" y2="1359.0" stroke="#eeeeee" stroke-width="1.8"/>
<line x1="1908.7" y1="1357.1" x2="1908.7" y2="1364.0" stroke="#d6d6d6" stroke-width="2.2"/>
<line x1="1916.9" y1="1356.8" x2="1916.9" y2="1359.0" stroke="#eeeeee" stroke-width="1.8"/>
<line x1="1925.0" y1="1356.8" x2="1925.0" y2="1359.0" stroke="#eeeeee" stroke-width="1.8"/>
<line x1="1933.2" y1="1356.8" x2="1933.2" y2="1359.0" stroke="#eeeeee" stroke-width="1.8"/>
<line x1="1941.3" y1="1356.8" x2="1941.3" y2="1359.0" stroke="#eeeeee" stroke-width="1.8"/>
<line x1="1949.5" y1="1356.8" x2="1949.5" y2="1359.0" stroke="#eeeeee" stroke-width="1.8"/>
<line x1="1957.6" y1="1356.8" x2="1957.6" y2="1359.0" stroke="#eeeeee" stroke-width="1.8"/>
<line x1="1965.8" y1="1356.8" x2="1965.8" y2="1359.0" stroke="#eeeeee" stroke-width="1.8"/>
<line x1="1973.9" y1="1356.8" x2="1973.9" y2="1359.0" stroke="#eeeeee" stroke-width="1.8"/>
<line x1="1982.0" y1="1356.8" x2="1982.0" y2="1359.0" stroke="#eeeeee" stroke-width="1.8"/>
<line x1="1990.2" y1="1357.1" x2="1990.2" y2="1364.0" stroke="#d6d6d6" stroke-width="2.2"/>
<line x1="1998.4" y1="1356.8" x2="1998.4" y2="1359.0" stroke="#eeeeee" stroke-width="1.8"/>
<line x1="2006.5" y1="1356.8" x2="2006.5" y2="1359.0" stroke="#eeeeee" stroke-width="1.8"/>
<line x1="2014.7" y1="1356.8" x2="2014.7" y2="1359.0" stroke="#eeeeee" stroke-width="1.8"/>
<line x1="2022.8" y1="1356.8" x2="2022.8" y2="1359.0" stroke="#eeeeee" stroke-width="1.8"/>
<line x1="2031.0" y1="1356.8" x2="2031.0" y2="1359.0" stroke="#eeeeee" stroke-width="1.8"/>
<line x1="2039.1" y1="1356.8" x2="2039.1" y2="1359.0" stroke="#eeeeee" stroke-width="1.8"/>
<line x1="2047.2" y1="1356.8" x2="2047.2" y2="1359.0" stroke="#eeeeee" stroke-width="1.8"/>
<line x1="2055.4" y1="1356.8" x2="2055.4" y2="1359.0" stroke="#eeeeee" stroke-width="1.8"/>
<line x1="2063.5" y1="1356.8" x2="2063.5" y2="1359.0" stroke="#eeeeee" stroke-width="1.8"/>
<line x1="2071.7" y1="1357.1" x2="2071.7" y2="1364.0" stroke="#d6d6d6" stroke-width="2.2"/>
<line x1="2079.8" y1="1356.8" x2="2079.8" y2="1359.0" stroke="#eeeeee" stroke-width="1.8"/>
<line x1="2088.0" y1="1356.8" x2="2088.0" y2="1359.0" stroke="#eeeeee" stroke-width="1.8"/>
<line x1="2096.2" y1="1356.8" x2="2096.2" y2="1359.0" stroke="#eeeeee" stroke-width="1.8"/>
<line x1="2104.3" y1="1356.8" x2="2104.3" y2="1359.0" stroke="#eeeeee" stroke-width="1.8"/>
<line x1="2112.4" y1="1356.8" x2="2112.4" y2="1359.0" stroke="#eeeeee" stroke-width="1.8"/>
<clipPath id="c2"><rect x="156.7" y="836.9" width="1959.10" height="516.70"/></clipPath><g clip-path="url(#c2)"><g filter="url(#soft3)" fill="none" stroke-linejoin="round" stroke-linecap="round"><path d="M318.9,1330.0 L320.8,1291.2 L322.4,1232.8 L323.8,1184.2 L324.7,1116.1 L325.7,1057.8 L327.3,991.7 L328.6,1057.8 L329.6,1135.6 L330.6,1193.9 L331.5,1252.3 L334.8,1300.0 L336.8,1252.3 L338.3,1213.4 L340.9,1184.4 L342.6,1232.8 L343.6,1291.2 L345.1,1330.0 M692.4,1314.7 L693.7,1301.6 M700.2,1291.1 L701.5,1305.3 L702.8,1319.5 M979.5,1285.6 L980.3,1269.3 L981.9,1236.5 L983.6,1211.9 M988.0,1105.5 L989.3,1080.9 L991.8,1054.5 L992.9,1089.1 L993.1,1187.4 L993.2,1269.3 L994.2,1318.4 M1018.8,1318.4 L1020.4,1288.9 L1022.9,1269.3 L1024.5,1244.7 L1025.3,1220.1 L1026.6,1210.1 L1027.8,1252.9 L1029.4,1293.8 L1031.1,1318.4 L1031.9,1329.9 M1066.6,1252.9 L1067.1,1228.3 L1068.7,1221.0 L1070.4,1252.9 L1071.2,1302.0 M1720.1,1328.6 L1721.4,1315.5 M1726.6,1320.8 L1727.9,1336.2" stroke="#0000ff" stroke-opacity="0.75" stroke-width="2.60"/><path d="M317.0,1345.3 L318.9,1330.0 M345.1,1330.0 L348.1,1343.7 M632.6,1325.1 L633.9,1330.7 L635.2,1336.3 M688.5,1340.7 L689.8,1334.9 L691.1,1326.2 L692.4,1314.7 M693.7,1301.6 L695.0,1289.1 L696.3,1279.9 M698.9,1280.4 L700.2,1291.1 M702.8,1319.5 L704.1,1330.9 L705.4,1338.8 M852.3,1331.1 L853.6,1338.4 M977.8,1326.6 L979.5,1285.6 M983.6,1211.9 L984.7,1154.6 L986.8,1146.4 L988.0,1105.5 M994.2,1318.4 L995.9,1339.7 M1017.1,1334.8 L1018.8,1318.4 M1031.9,1329.9 L1035.2,1310.2 L1038.1,1297.7 L1040.1,1318.4 L1041.7,1343.0 M1060.5,1334.8 L1062.2,1310.2 L1063.8,1290.5 L1066.3,1282.4 L1066.6,1252.9 M1071.2,1302.0 L1072.0,1334.8 L1074.5,1341.3 M1109.7,1326.6 L1113.8,1312.7 L1117.0,1334.8 L1118.7,1349.5 M1138.3,1329.9 L1141.6,1316.7 M1210.4,1343.0 L1213.6,1318.4 L1216.1,1298.7 L1218.6,1282.4 L1220.5,1276.6 L1222.7,1295.5 L1225.1,1315.1 L1227.6,1334.8 M1717.5,1348.1 L1718.8,1340.1 L1720.1,1328.6 M1721.4,1315.5 L1722.7,1304.8 M1725.3,1306.4 L1726.6,1320.8 M1727.9,1336.2 L1729.2,1346.9 M1744.8,1347.6 L1746.1,1340.1 L1747.4,1332.2 M1750.0,1330.0 L1751.3,1338.6 L1752.6,1347.5" stroke="#0000ff" stroke-opacity="0.83" stroke-width="3.03"/><path d="M205.3,1342.2 L206.6,1339.5 L207.9,1335.6 L209.2,1330.8 L210.5,1325.7 L211.8,1321.6 L213.1,1319.5 M214.4,1319.9 L215.7,1322.7 L217.0,1327.0 L218.3,1331.8 L219.6,1336.3 L220.9,1339.9 L222.2,1342.3 M246.9,1341.5 L248.2,1338.9 L249.5,1335.6 L250.8,1331.8 L252.1,1328.4 M254.7,1325.5 L256.0,1328.5 L257.3,1334.2 L258.6,1339.6 L259.9,1343.1 M315.8,1345.5 L317.0,1345.3 M348.1,1343.7 L351.0,1347.6 M631.3,1320.5 L632.6,1325.1 M635.2,1336.3 L636.5,1341.9 L637.8,1342.7 M687.2,1344.2 L688.5,1340.7 M696.3,1279.9 L697.6,1276.5 L697.6,1276.5 L698.9,1280.4 M705.4,1338.8 L706.7,1343.4 L708.0,1345.8 M762.6,1332.5 L763.9,1335.9 L765.2,1339.2 L766.5,1342.6 L767.8,1345.9 M827.6,1344.2 L828.9,1341.0 L830.2,1336.9 L831.5,1332.6 L832.8,1329.4 M836.7,1331.0 L838.0,1333.7 L839.3,1336.2 M843.2,1337.1 L844.5,1334.5 L845.8,1331.0 L847.1,1327.4 L848.4,1324.5 M850.0,1323.1 L851.0,1324.8 L852.3,1331.1 M853.6,1338.4 L854.9,1343.8 L856.2,1346.6 M871.8,1344.6 L873.1,1342.1 L874.4,1339.1 L875.7,1336.2 M884.8,1330.7 L886.1,1333.9 L887.4,1338.1 L888.7,1342.0 L890.0,1344.9 M974.6,1336.4 L977.8,1326.6 M995.9,1339.7 L998.3,1347.9 M1011.4,1336.4 L1017.1,1334.8 M1041.7,1343.0 L1044.2,1346.2 M1057.3,1343.0 L1060.5,1334.8 M1074.5,1341.3 L1080.2,1325.8 L1082.6,1343.0 L1085.1,1349.5 M1103.9,1347.9 L1107.2,1343.0 L1109.7,1326.6 M1118.7,1349.5 L1120.3,1351.1 M1132.6,1350.3 L1135.9,1339.7 L1138.3,1329.9 M1141.6,1316.7 L1144.1,1333.1 L1147.3,1339.7 L1151.1,1333.1 L1153.9,1346.2 L1156.3,1351.1 M1180.9,1344.6 L1186.6,1333.1 L1189.9,1346.2 L1192.4,1348.7 M1207.1,1349.5 L1210.4,1343.0 M1227.6,1334.8 L1230.0,1347.9 L1236.6,1351.1 M1326.2,1342.7 L1327.5,1345.9 L1328.8,1349.9 L1330.1,1352.8 M1349.6,1352.1 L1350.9,1348.8 L1352.2,1344.3 L1353.5,1339.4 L1354.8,1335.4 M1356.3,1333.5 L1357.4,1334.9 L1358.7,1339.6 L1360.0,1345.4 L1361.3,1350.3 L1362.6,1353.5 M1535.5,1352.7 L1536.8,1350.1 L1538.1,1346.6 L1539.4,1343.0 L1540.7,1340.1 M1543.3,1340.5 L1544.6,1344.3 L1545.9,1348.6 L1547.2,1352.2 L1548.5,1354.4 M1560.2,1353.1 L1561.5,1350.8 L1562.8,1347.7 L1564.1,1344.3 L1565.4,1341.6 M1568.0,1341.3 L1569.3,1344.1 L1570.6,1347.6 L1571.9,1350.5 M1642.1,1353.0 L1643.4,1350.4 L1644.7,1347.5 M1648.6,1346.0 L1649.9,1348.7 L1651.2,1351.6 M1714.9,1354.8 L1716.2,1352.7 L1717.5,1348.1 M1722.7,1304.8 L1724.0,1300.5 L1724.0,1300.5 L1725.3,1306.4 M1729.2,1346.9 L1730.5,1351.5 L1731.8,1350.9 L1733.1,1347.2 L1734.4,1344.5 M1734.6,1344.5 L1735.7,1346.1 L1737.0,1350.3 L1738.3,1353.9 M1742.2,1354.8 L1743.5,1352.5 L1744.8,1347.6 M1747.4,1332.2 L1748.7,1327.7 L1749.0,1327.5 L1750.0,1330.0 M1752.6,1347.5 L1753.9,1353.0 L1755.2,1355.2 M2049.0,1348.0 L2050.3,1345.4 L2051.6,1342.7 L2052.9,1339.8 L2054.2,1337.2 M2060.7,1334.8 L2062.0,1337.9 L2063.3,1341.7 L2064.6,1345.5 L2065.9,1348.8 L2067.2,1351.4" stroke="#0000ff" stroke-opacity="0.92" stroke-width="3.47"/><path d="M157.2,1343.4 L158.5,1343.4 L159.8,1343.4 L161.1,1343.5 L162.4,1343.5 L163.7,1343.5 L165.0,1343.5 L166.3,1343.5 L167.6,1343.5 L168.9,1343.6 L170.2,1343.6 L171.5,1343.6 L172.8,1343.9 L174.1,1344.5 L175.4,1345.0 L176.7,1345.3 L178.0,1345.3 L179.3,1345.3 L180.6,1345.3 L181.9,1345.3 L183.2,1345.3 L184.5,1345.3 L185.8,1345.3 L187.1,1345.3 L188.4,1345.3 L189.7,1345.3 L191.0,1345.3 L192.3,1345.3 L193.6,1345.3 L194.9,1345.3 L196.2,1345.3 L197.5,1345.3 L198.8,1345.3 L200.1,1345.2 L201.4,1345.1 L202.7,1344.7 L204.0,1343.8 L205.3,1342.2 M213.1,1319.5 L213.5,1319.4 L214.4,1319.9 M222.2,1342.3 L223.5,1343.8 L224.8,1344.7 L226.1,1345.1 L227.4,1345.3 L228.7,1345.3 L230.0,1345.4 L231.3,1345.4 L232.6,1345.4 L233.9,1345.4 L235.2,1345.4 L236.5,1345.4 L237.8,1345.4 L239.1,1345.4 L240.4,1345.3 L241.7,1345.2 L243.0,1344.9 L244.3,1344.3 L245.6,1343.3 L246.9,1341.5 M252.1,1328.4 L253.4,1326.1 L254.5,1325.4 L254.7,1325.5 M259.9,1343.1 L261.2,1344.7 L262.5,1345.2 L263.8,1345.4 L265.1,1345.4 L266.4,1345.4 L267.7,1345.4 L269.0,1345.4 L270.3,1345.4 L271.6,1345.4 L272.9,1345.4 L274.2,1345.4 L275.5,1345.4 L276.8,1345.4 L278.1,1345.4 L279.4,1345.4 L280.7,1345.4 L282.0,1345.5 L283.3,1345.5 L284.6,1345.5 L285.9,1345.5 L287.2,1345.5 L288.5,1345.5 L289.8,1345.5 L291.1,1345.5 L292.4,1345.5 L293.7,1345.5 L295.0,1345.5 L296.3,1345.5 L297.6,1345.5 L298.9,1345.5 L300.2,1345.5 L301.5,1345.5 L302.8,1345.5 L304.1,1345.5 L305.4,1345.5 L306.7,1345.5 L308.0,1345.5 L309.3,1345.5 L310.6,1345.5 L311.9,1345.5 L313.2,1345.5 L314.5,1345.5 L315.8,1345.5 M351.0,1347.6 L351.8,1347.6 L353.1,1347.6 L354.4,1347.6 L355.7,1347.7 L357.0,1347.7 L358.3,1347.7 L359.6,1347.8 L360.9,1347.8 L362.2,1347.8 L363.5,1347.8 L364.8,1347.9 L366.1,1347.9 L367.4,1347.9 L368.7,1347.9 L370.0,1348.0 L371.3,1348.0 L372.6,1348.0 L373.9,1348.1 L375.2,1348.1 L376.5,1348.1 L377.8,1348.1 L379.1,1348.2 L380.4,1348.2 L381.7,1348.2 L383.0,1348.2 L384.3,1348.3 L385.6,1348.3 L386.9,1348.3 L388.2,1348.4 L389.5,1348.4 L390.8,1348.4 L392.1,1348.4 L393.4,1348.5 L394.7,1348.5 L396.0,1348.5 L397.3,1348.5 L398.6,1348.6 L399.9,1348.6 L401.2,1348.6 L402.5,1348.6 L403.8,1348.6 L405.1,1348.6 L406.4,1348.6 L407.7,1348.6 L409.0,1348.6 L410.3,1348.6 L411.6,1348.6 L412.9,1348.6 L414.2,1348.6 L415.5,1348.6 L416.8,1348.6 L418.1,1348.6 L419.4,1348.6 L420.7,1348.6 L422.0,1348.6 L423.3,1348.6 L424.6,1348.6 L425.9,1348.6 L427.2,1348.6 L428.5,1348.6 L429.8,1348.6 L431.1,1348.6 L432.4,1348.6 L433.7,1348.6 L435.0,1348.6 L436.3,1348.6 L437.6,1348.6 L438.9,1348.6 L440.2,1348.7 L441.5,1348.7 L442.8,1348.7 L444.1,1348.7 L445.4,1348.7 L446.7,1348.7 L448.0,1348.7 L449.3,1348.7 L450.6,1348.7 L451.9,1348.7 L453.2,1348.7 L454.5,1348.7 L455.8,1348.7 L457.1,1348.7 L458.4,1348.7 L459.7,1348.7 L461.0,1348.7 L462.3,1348.7 L463.6,1348.7 L464.9,1348.7 L466.2,1348.7 L467.5,1348.7 L468.8,1348.7 L470.1,1348.7 L471.4,1348.7 L472.7,1348.7 L474.0,1348.7 L475.3,1348.7 L476.6,1348.7 L477.9,1348.7 L479.2,1348.7 L480.5,1348.7 L481.8,1348.7 L483.1,1348.7 L484.4,1348.7 L485.7,1348.7 L487.0,1348.7 L488.3,1348.7 L489.6,1348.7 L490.9,1348.7 L492.2,1348.7 L493.5,1348.7 L494.8,1348.7 L496.1,1348.7 L497.4,1348.7 L498.7,1348.7 L500.0,1348.7 L501.3,1348.7 L502.6,1348.7 L503.9,1348.7 L505.2,1348.7 L506.5,1348.7 L507.8,1348.7 L509.1,1348.7 L510.4,1348.7 L511.7,1348.7 L513.0,1348.7 L514.3,1348.7 L515.6,1348.7 L516.9,1348.7 L518.2,1348.7 L519.5,1348.7 L520.8,1348.8 L522.1,1348.8 L523.4,1348.8 L524.7,1348.8 L526.0,1348.8 L527.3,1348.8 L528.6,1348.8 L529.9,1348.8 L531.2,1348.8 L532.5,1348.8 L533.8,1348.8 L535.1,1348.8 L536.4,1348.8 L537.7,1348.8 L539.0,1348.8 L540.3,1348.8 L541.6,1348.8 L542.9,1348.8 L544.2,1348.8 L545.5,1348.8 L546.8,1348.8 L548.1,1348.8 L549.4,1348.8 L550.7,1348.8 L552.0,1348.8 L553.3,1348.8 L554.6,1348.8 L555.9,1348.8 L557.2,1348.8 L558.5,1348.8 L559.8,1348.7 L561.1,1348.1 L562.4,1347.3 L563.7,1346.2 L565.0,1344.7 L566.3,1342.7 L567.6,1340.5 L568.9,1338.4 L570.2,1336.7 L571.5,1335.7 L571.5,1335.7 L572.8,1336.1 L574.1,1337.6 L575.4,1339.4 L576.7,1340.9 L578.0,1341.6 L579.3,1341.7 L580.6,1341.4 L581.9,1341.0 L583.2,1340.3 L584.5,1339.6 L585.8,1338.8 L587.1,1338.1 L588.4,1337.3 L589.7,1336.6 L591.0,1335.8 L592.3,1335.0 L593.6,1334.3 L594.9,1333.5 L596.2,1332.8 L597.5,1332.0 L598.8,1331.3 L600.1,1330.5 L601.4,1329.9 L602.7,1329.6 L604.0,1329.3 L605.3,1329.0 L606.6,1328.7 L607.9,1328.3 L609.2,1328.0 L610.5,1327.7 L611.8,1327.4 L613.1,1327.1 L614.4,1326.5 L615.7,1325.7 L617.0,1324.8 L618.3,1324.0 L619.6,1323.2 L620.9,1322.4 L622.2,1321.6 L623.5,1320.8 L624.8,1320.5 L626.1,1320.5 L627.4,1320.5 L628.7,1320.5 L630.0,1320.5 L631.3,1320.5 M637.8,1342.7 L639.1,1343.4 L640.4,1344.1 L641.7,1344.7 L643.0,1345.4 L644.3,1346.1 L645.6,1346.5 L646.9,1346.5 L648.2,1346.6 L649.5,1346.6 L650.8,1346.6 L652.1,1346.7 L653.4,1346.7 L654.7,1346.7 L656.0,1346.7 L657.3,1346.8 L658.6,1346.8 L659.9,1346.8 L661.2,1346.9 L662.5,1346.9 L663.8,1346.9 L665.1,1346.9 L666.4,1347.0 L667.7,1347.0 L669.0,1347.0 L670.3,1347.1 L671.6,1347.1 L672.9,1347.1 L674.2,1347.1 L675.5,1347.2 L676.8,1347.2 L678.1,1347.2 L679.4,1347.3 L680.7,1347.3 L682.0,1347.3 L683.3,1347.1 L684.6,1346.8 L685.9,1346.0 L687.2,1344.2 M708.0,1345.8 L709.3,1346.9 L710.6,1347.3 L711.9,1347.4 L713.2,1347.5 L714.5,1347.5 L715.8,1347.5 L717.1,1347.5 L718.4,1347.5 L719.7,1347.5 L721.0,1347.5 L722.3,1347.5 L723.6,1347.5 L724.9,1347.5 L726.2,1347.0 L727.5,1346.4 L728.8,1345.8 L730.1,1345.2 L731.4,1344.6 L732.7,1344.0 L734.0,1343.5 L735.3,1342.9 L736.6,1342.4 L737.9,1341.9 L739.2,1341.5 L740.5,1341.0 L741.8,1340.5 L743.1,1340.0 L744.4,1339.6 L745.7,1339.1 L747.0,1338.6 L748.3,1338.1 L749.6,1337.7 L750.9,1336.7 L752.2,1335.5 L753.5,1334.3 L754.8,1333.1 L756.1,1331.9 L757.4,1331.0 L758.7,1331.0 L760.0,1331.0 L761.3,1331.0 L762.6,1332.5 M767.8,1345.9 L769.1,1346.7 L770.4,1346.9 L771.7,1347.1 L773.0,1347.3 L774.3,1347.5 L775.6,1347.8 L776.9,1348.0 L778.2,1348.2 L779.5,1348.3 L780.8,1348.3 L782.1,1348.2 L783.4,1347.9 L784.7,1347.4 L786.0,1346.8 L787.3,1346.1 L788.6,1345.2 L789.9,1344.2 L791.2,1343.4 L792.5,1342.8 L793.8,1342.5 L794.0,1342.5 L795.1,1342.9 L796.4,1344.1 L797.7,1345.7 L799.0,1347.0 L800.3,1347.8 L801.6,1348.2 L802.9,1348.4 L804.2,1348.4 L805.5,1348.3 L806.8,1348.1 L808.1,1347.7 L809.4,1347.0 L810.7,1346.2 L812.0,1345.6 L813.0,1345.4 L813.3,1345.4 L814.6,1345.8 L815.9,1346.5 L817.2,1347.2 L818.5,1347.8 L819.8,1348.1 L821.1,1348.2 L822.4,1348.2 L823.7,1348.0 L825.0,1347.5 L826.3,1346.3 L827.6,1344.2 M832.8,1329.4 L834.0,1328.2 L834.1,1328.2 L835.4,1329.0 L836.7,1331.0 M839.3,1336.2 L840.6,1337.9 L841.9,1338.3 L843.2,1337.1 M848.4,1324.5 L849.7,1323.1 L850.0,1323.1 M856.2,1346.6 L857.5,1347.7 L858.8,1348.0 L860.1,1348.1 L861.4,1348.1 L862.7,1348.1 L864.0,1348.0 L865.3,1348.0 L866.6,1347.9 L867.9,1347.7 L869.2,1347.2 L870.5,1346.3 L871.8,1344.6 M875.7,1336.2 L877.0,1334.0 L877.5,1333.3 L878.3,1332.6 L879.6,1332.0 L880.9,1331.1 L882.2,1329.9 L883.5,1329.4 L884.0,1329.7 L884.8,1330.7 M890.0,1344.9 L891.3,1346.6 L892.6,1347.4 L893.9,1347.7 L895.2,1347.8 L896.5,1347.8 L897.8,1347.8 L899.1,1347.8 L900.4,1347.8 L901.7,1347.8 L903.0,1347.8 L904.3,1347.8 L905.6,1347.7 L906.9,1347.7 L908.2,1347.7 L909.5,1347.7 L910.8,1347.6 L912.1,1347.5 L913.4,1347.3 L914.7,1347.0 L916.0,1346.5 L917.3,1345.9 L918.6,1345.2 L919.9,1344.6 L921.2,1344.2 L922.0,1344.1 L922.5,1344.2 L923.8,1344.4 L925.1,1345.0 L926.4,1345.7 L927.7,1346.3 L929.0,1346.8 L930.3,1347.2 L931.6,1347.4 L932.9,1347.5 L934.2,1347.5 L935.5,1347.5 L936.8,1347.5 L938.1,1347.5 L939.4,1347.5 L940.7,1347.4 L942.0,1347.1 L943.3,1346.8 L944.6,1346.5 L945.9,1346.3 L947.2,1346.0 L948.5,1345.7 L949.8,1345.4 L950.0,1345.4 L956.6,1343.0 L961.5,1339.7 L966.4,1343.0 L971.3,1341.3 L974.6,1336.4 M998.3,1347.9 L1000.8,1347.9 L1006.5,1341.3 L1011.4,1336.4 M1044.2,1346.2 L1048.3,1343.8 L1057.3,1343.0 M1085.1,1349.5 L1089.2,1349.5 L1097.4,1344.6 L1103.9,1347.9 M1120.3,1351.1 L1132.6,1350.3 M1156.3,1351.1 L1176.8,1351.1 L1180.9,1344.6 M1192.4,1348.7 L1207.1,1349.5 M1236.6,1351.1 L1250.0,1348.7 L1250.8,1347.4 L1252.1,1347.3 L1253.0,1347.2 L1253.4,1347.3 L1254.7,1347.4 L1256.0,1347.7 L1257.3,1348.0 L1258.6,1348.3 L1259.9,1348.5 L1261.2,1348.7 L1262.5,1348.8 L1263.8,1348.9 L1265.1,1348.9 L1266.4,1349.0 L1267.7,1349.0 L1269.0,1349.0 L1270.3,1349.0 L1271.6,1349.0 L1272.9,1349.1 L1274.2,1349.1 L1275.5,1349.1 L1276.8,1349.1 L1278.1,1349.1 L1279.4,1349.0 L1280.7,1348.8 L1282.0,1348.4 L1283.3,1347.7 L1284.6,1346.7 L1285.9,1345.6 L1287.2,1344.7 L1288.5,1344.3 L1288.6,1344.3 L1289.8,1344.6 L1291.1,1345.5 L1292.4,1346.6 L1293.7,1347.7 L1295.0,1348.5 L1296.3,1349.0 L1297.6,1349.2 L1298.9,1349.3 L1300.2,1349.3 L1301.5,1349.0 L1302.8,1348.5 L1304.1,1347.6 L1305.4,1346.3 L1306.7,1344.8 L1308.0,1343.1 L1309.3,1341.7 L1310.6,1341.0 L1311.0,1341.0 L1311.9,1341.2 L1313.2,1342.1 L1314.5,1343.5 L1315.8,1345.0 L1317.1,1345.9 L1318.4,1346.1 L1319.7,1345.4 L1321.0,1344.0 L1322.3,1342.4 L1323.6,1341.2 L1324.5,1341.0 L1324.9,1341.1 L1326.2,1342.7 M1330.1,1352.8 L1331.4,1355.0 L1332.7,1356.0 L1334.0,1356.0 L1335.3,1356.0 L1336.6,1356.0 L1337.9,1356.0 L1339.2,1356.0 L1340.5,1356.0 L1341.8,1356.0 L1343.1,1356.0 L1344.4,1355.9 L1345.7,1355.7 L1347.0,1355.2 L1348.3,1354.1 L1349.6,1352.1 M1354.8,1335.4 L1356.1,1333.5 L1356.3,1333.5 M1362.6,1353.5 L1363.9,1355.1 L1365.2,1355.7 L1366.5,1355.9 L1367.8,1356.0 L1369.1,1356.0 L1370.4,1356.0 L1371.7,1356.0 L1373.0,1356.0 L1374.3,1356.0 L1375.6,1356.0 L1376.9,1356.0 L1378.2,1356.0 L1379.5,1356.0 L1380.8,1356.0 L1382.1,1356.0 L1383.4,1356.0 L1384.7,1356.0 L1386.0,1356.0 L1387.3,1356.0 L1388.6,1356.0 L1389.9,1356.0 L1391.2,1356.0 L1392.5,1356.0 L1393.8,1356.0 L1395.1,1356.0 L1396.4,1356.0 L1397.7,1356.0 L1399.0,1356.0 L1400.3,1356.0 L1401.6,1356.0 L1402.9,1356.0 L1404.2,1356.0 L1405.5,1356.0 L1406.8,1356.0 L1408.1,1356.0 L1409.4,1356.0 L1410.7,1356.0 L1412.0,1356.0 L1413.3,1356.0 L1414.6,1356.0 L1415.9,1356.0 L1417.2,1356.0 L1418.5,1356.0 L1419.8,1356.0 L1421.1,1356.0 L1422.4,1356.0 L1423.7,1356.0 L1425.0,1356.0 L1426.3,1356.0 L1427.6,1356.0 L1428.9,1356.0 L1430.2,1356.0 L1431.5,1356.0 L1432.8,1356.0 L1434.1,1356.0 L1435.4,1356.0 L1436.7,1356.0 L1438.0,1356.0 L1439.3,1356.0 L1440.6,1356.0 L1441.9,1356.0 L1443.2,1356.0 L1444.5,1356.0 L1445.8,1356.0 L1447.1,1356.0 L1448.4,1356.0 L1449.7,1356.0 L1451.0,1356.0 L1452.3,1356.0 L1453.6,1356.0 L1454.9,1356.0 L1456.2,1356.0 L1457.5,1356.0 L1458.8,1356.0 L1460.1,1356.0 L1461.4,1356.0 L1462.7,1356.0 L1464.0,1356.0 L1465.3,1356.0 L1466.6,1356.0 L1467.9,1356.0 L1469.2,1356.0 L1470.5,1356.0 L1471.8,1356.0 L1473.1,1356.0 L1474.4,1356.0 L1475.7,1356.0 L1477.0,1356.0 L1478.3,1356.0 L1479.6,1356.0 L1480.9,1356.0 L1482.2,1356.0 L1483.5,1356.0 L1484.8,1356.0 L1486.1,1356.0 L1487.4,1356.0 L1488.7,1356.0 L1490.0,1356.0 L1491.3,1356.0 L1492.6,1356.0 L1493.9,1356.0 L1495.2,1356.0 L1496.5,1356.0 L1497.8,1356.0 L1499.1,1356.0 L1500.4,1356.0 L1501.7,1356.0 L1503.0,1356.0 L1504.3,1356.0 L1505.6,1356.0 L1506.9,1356.0 L1508.2,1356.0 L1509.5,1356.0 L1510.8,1356.0 L1512.1,1356.0 L1513.4,1356.0 L1514.7,1356.0 L1516.0,1356.0 L1517.3,1356.0 L1518.6,1356.0 L1519.9,1356.0 L1521.2,1356.0 L1522.5,1356.0 L1523.8,1356.0 L1525.1,1356.0 L1526.4,1356.0 L1527.7,1356.0 L1529.0,1356.0 L1530.3,1355.9 L1531.6,1355.7 L1532.9,1355.3 L1534.2,1354.4 L1535.5,1352.7 M1540.7,1340.1 L1542.0,1339.0 L1542.0,1339.0 L1543.3,1340.5 M1548.5,1354.4 L1549.8,1355.4 L1551.1,1355.8 L1552.4,1356.0 L1553.7,1356.0 L1555.0,1355.9 L1556.3,1355.8 L1557.6,1355.4 L1558.9,1354.6 L1560.2,1353.1 M1565.4,1341.6 L1566.7,1340.4 L1566.8,1340.4 L1568.0,1341.3 M1571.9,1350.5 L1573.2,1352.1 L1574.5,1352.6 L1575.8,1352.2 L1577.1,1351.5 L1578.4,1350.7 L1579.7,1350.2 L1581.0,1350.0 L1581.0,1350.0 L1582.3,1350.3 L1583.6,1351.1 L1584.9,1352.3 L1586.2,1353.4 L1587.5,1354.4 L1588.8,1355.1 L1590.1,1355.5 L1591.4,1355.8 L1592.7,1355.9 L1594.0,1356.0 L1595.3,1356.0 L1596.6,1356.0 L1597.9,1356.0 L1599.2,1356.0 L1600.5,1356.0 L1601.8,1356.0 L1603.1,1356.0 L1604.4,1356.0 L1605.7,1356.0 L1607.0,1356.0 L1608.3,1356.0 L1609.6,1356.0 L1610.9,1356.0 L1612.2,1356.0 L1613.5,1356.0 L1614.8,1356.0 L1616.1,1356.0 L1617.4,1356.0 L1618.7,1356.0 L1620.0,1356.0 L1621.3,1356.0 L1622.6,1356.0 L1623.9,1356.0 L1625.2,1356.0 L1626.5,1356.0 L1627.8,1356.0 L1629.1,1356.0 L1630.4,1356.0 L1631.7,1356.0 L1633.0,1356.0 L1634.3,1356.0 L1635.6,1356.0 L1636.9,1356.0 L1638.2,1355.8 L1639.5,1355.5 L1640.8,1354.7 L1642.1,1353.0 M1644.7,1347.5 L1646.0,1345.1 L1647.0,1344.5 L1647.3,1344.5 L1648.6,1346.0 M1651.2,1351.6 L1652.5,1353.8 L1653.8,1355.1 L1655.1,1355.7 L1656.4,1355.9 L1657.7,1356.0 L1659.0,1356.0 L1660.3,1356.0 L1661.6,1356.0 L1662.9,1356.0 L1664.2,1356.0 L1665.5,1356.0 L1666.8,1356.0 L1668.1,1356.0 L1669.4,1356.0 L1670.7,1356.0 L1672.0,1356.0 L1673.3,1356.0 L1674.6,1356.0 L1675.9,1356.0 L1677.2,1356.0 L1678.5,1356.0 L1679.8,1356.0 L1681.1,1356.0 L1682.4,1356.0 L1683.7,1356.0 L1685.0,1356.0 L1686.3,1356.0 L1687.6,1356.0 L1688.9,1356.0 L1690.2,1356.0 L1691.5,1356.0 L1692.8,1356.0 L1694.1,1356.0 L1695.4,1356.0 L1696.7,1356.0 L1698.0,1356.0 L1699.3,1355.9 L1700.6,1355.6 L1701.9,1354.7 L1703.2,1353.0 L1704.5,1351.6 L1705.0,1351.5 L1705.8,1351.8 L1707.1,1353.4 L1708.4,1354.9 L1709.7,1355.7 L1711.0,1355.9 L1712.3,1355.9 L1713.6,1355.6 L1714.9,1354.8 M1734.4,1344.5 L1734.6,1344.5 M1738.3,1353.9 L1739.6,1355.4 L1740.9,1355.6 L1742.2,1354.8 M1755.2,1355.2 L1756.5,1355.9 L1757.8,1356.0 L1759.1,1356.0 L1760.4,1356.0 L1761.7,1356.0 L1763.0,1356.0 L1764.3,1356.0 L1765.6,1356.0 L1766.9,1356.0 L1768.2,1356.0 L1769.5,1356.0 L1770.8,1356.0 L1772.1,1356.0 L1773.4,1356.0 L1774.7,1356.0 L1776.0,1356.0 L1777.3,1356.0 L1778.6,1356.0 L1779.9,1356.0 L1781.2,1356.0 L1782.5,1356.0 L1783.8,1356.0 L1785.1,1356.0 L1786.4,1356.0 L1787.7,1356.0 L1789.0,1356.0 L1790.3,1356.0 L1791.6,1356.0 L1792.9,1356.0 L1794.2,1356.0 L1795.5,1356.0 L1796.8,1356.0 L1798.1,1356.0 L1799.4,1356.0 L1800.7,1356.0 L1802.0,1356.0 L1803.3,1356.0 L1804.6,1356.0 L1805.9,1356.0 L1807.2,1356.0 L1808.5,1356.0 L1809.8,1356.0 L1811.1,1356.0 L1812.4,1356.0 L1813.7,1356.0 L1815.0,1356.0 L1816.3,1356.0 L1817.6,1356.0 L1818.9,1356.0 L1820.2,1356.0 L1821.5,1355.9 L1822.8,1355.8 L1824.1,1355.6 L1825.4,1355.3 L1826.7,1354.6 L1828.0,1353.5 L1829.3,1352.0 L1830.6,1350.0 L1831.9,1347.7 L1833.2,1345.3 L1834.5,1343.2 L1835.8,1341.6 L1836.0,1341.4 L1837.1,1340.5 L1838.4,1339.8 L1839.7,1339.3 L1841.0,1339.0 L1842.3,1339.0 L1843.6,1339.3 L1844.9,1339.9 L1846.0,1340.6 L1846.2,1340.8 L1847.5,1342.2 L1848.8,1344.1 L1850.1,1346.3 L1851.4,1348.6 L1852.7,1350.6 L1854.0,1352.4 L1855.3,1353.7 L1856.6,1354.6 L1857.9,1355.2 L1859.2,1355.6 L1860.5,1355.8 L1861.8,1355.9 L1863.1,1356.0 L1864.4,1356.0 L1865.7,1356.0 L1867.0,1356.0 L1868.3,1356.0 L1869.6,1356.0 L1870.9,1356.0 L1872.2,1356.0 L1873.5,1356.0 L1874.8,1356.0 L1876.1,1356.0 L1877.4,1356.0 L1878.7,1356.0 L1880.0,1356.0 L1881.3,1356.0 L1882.6,1356.0 L1883.9,1356.0 L1885.2,1356.0 L1886.5,1356.0 L1887.8,1356.0 L1889.1,1356.0 L1890.4,1356.0 L1891.7,1356.0 L1893.0,1356.0 L1894.3,1356.0 L1895.6,1356.0 L1896.9,1356.0 L1898.2,1356.0 L1899.5,1356.0 L1900.8,1356.0 L1902.1,1356.0 L1903.4,1356.0 L1904.7,1356.0 L1906.0,1356.0 L1907.3,1356.0 L1908.6,1356.0 L1909.9,1356.0 L1911.2,1356.0 L1912.5,1356.0 L1913.8,1356.0 L1915.1,1356.0 L1916.4,1356.0 L1917.7,1356.0 L1919.0,1356.0 L1920.3,1356.0 L1921.6,1356.0 L1922.9,1356.0 L1924.2,1356.0 L1925.5,1356.0 L1926.8,1356.0 L1928.1,1356.0 L1929.4,1356.0 L1930.7,1356.0 L1932.0,1356.0 L1933.3,1356.0 L1934.6,1356.0 L1935.9,1356.0 L1937.2,1356.0 L1938.5,1356.0 L1939.8,1356.0 L1941.1,1356.0 L1942.4,1356.0 L1943.7,1356.0 L1945.0,1356.0 L1946.3,1356.0 L1947.6,1356.0 L1948.9,1356.0 L1950.2,1356.0 L1951.5,1356.0 L1952.8,1356.0 L1954.1,1356.0 L1955.4,1356.0 L1956.7,1356.0 L1958.0,1356.0 L1959.3,1356.0 L1960.6,1356.0 L1961.9,1356.0 L1963.2,1356.0 L1964.5,1356.0 L1965.8,1356.0 L1967.1,1356.0 L1968.4,1356.0 L1969.7,1356.0 L1971.0,1356.0 L1972.3,1356.0 L1973.6,1356.0 L1974.9,1356.0 L1976.2,1356.0 L1977.5,1356.0 L1978.8,1356.0 L1980.1,1356.0 L1981.4,1356.0 L1982.7,1356.0 L1984.0,1356.0 L1985.3,1356.0 L1986.6,1356.0 L1987.9,1356.0 L1989.2,1356.0 L1990.5,1356.0 L1991.8,1356.0 L1993.1,1356.0 L1994.4,1356.0 L1995.7,1356.0 L1997.0,1356.0 L1998.3,1356.0 L1999.6,1356.0 L2000.9,1356.0 L2002.2,1356.0 L2003.5,1356.0 L2004.8,1356.0 L2006.1,1356.0 L2007.4,1356.0 L2008.7,1356.0 L2010.0,1356.0 L2011.3,1356.0 L2012.6,1356.0 L2013.9,1356.0 L2015.2,1356.0 L2016.5,1356.0 L2017.8,1356.0 L2019.1,1356.0 L2020.4,1356.0 L2021.7,1356.0 L2023.0,1356.0 L2024.3,1356.0 L2025.6,1356.0 L2026.9,1356.0 L2028.2,1356.0 L2029.5,1356.0 L2030.8,1356.0 L2032.1,1356.0 L2033.4,1356.0 L2034.7,1356.0 L2036.0,1355.9 L2037.3,1355.9 L2038.6,1355.8 L2039.9,1355.6 L2041.2,1355.3 L2042.5,1354.9 L2043.8,1354.2 L2045.1,1353.2 L2046.4,1351.9 L2047.7,1350.1 L2049.0,1348.0 M2054.2,1337.2 L2055.5,1334.9 L2056.8,1333.3 L2058.1,1332.5 L2058.5,1332.5 L2059.4,1332.9 L2060.7,1334.8 M2067.2,1351.4 L2068.5,1353.3 L2069.8,1354.5 L2071.1,1355.2 L2072.4,1355.6 L2073.7,1355.8 L2075.0,1355.9 L2076.3,1356.0 L2077.6,1356.0 L2078.9,1356.0 L2080.2,1356.0 L2081.5,1356.0 L2082.8,1356.0 L2084.1,1356.0 L2085.4,1356.0 L2086.7,1356.0 L2088.0,1356.0 L2089.3,1356.0 L2090.6,1356.0 L2091.9,1356.0 L2093.2,1356.0 L2094.5,1356.0 L2095.8,1356.0 L2097.1,1356.0 L2098.4,1356.0 L2099.7,1356.0 L2101.0,1356.0 L2102.3,1356.0 L2103.6,1356.0 L2104.9,1356.0 L2106.2,1356.0 L2107.5,1356.0 L2108.8,1356.0 L2110.1,1356.0 L2111.4,1356.0 L2112.7,1356.0 L2114.0,1356.0 L2115.3,1356.0" stroke="#0000ff" stroke-opacity="1.00" stroke-width="3.90"/></g></g>
<path d="M156.7,1356.20 L156.7,836.9 L2115.8,836.9 L2115.8,1356.20" fill="none" stroke="#424242" stroke-width="2.4"/>
<text transform="translate(149.70,1364.10) scale(0.95,1)" font-size="22.6" font-weight="bold" text-anchor="end" fill="#2a2a2a" >0</text>
<text transform="translate(2125.70,1364.10) scale(0.95,1)" font-size="22.6" font-weight="bold" text-anchor="start" fill="#2a2a2a" >0</text>
<line x1="153.30" y1="1337.3" x2="156.7" y2="1337.3" stroke="#7a7a7a" stroke-width="2.2"/>
<line x1="2115.8" y1="1337.3" x2="2119.8" y2="1337.3" stroke="#c2c2c2" stroke-width="2.4"/>
<line x1="153.30" y1="1320.1" x2="156.7" y2="1320.1" stroke="#7a7a7a" stroke-width="2.2"/>
<line x1="2115.8" y1="1320.1" x2="2119.8" y2="1320.1" stroke="#c2c2c2" stroke-width="2.4"/>
<line x1="153.30" y1="1302.8" x2="156.7" y2="1302.8" stroke="#7a7a7a" stroke-width="2.2"/>
<line x1="2115.8" y1="1302.8" x2="2119.8" y2="1302.8" stroke="#c2c2c2" stroke-width="2.4"/>
<line x1="153.30" y1="1285.6" x2="156.7" y2="1285.6" stroke="#7a7a7a" stroke-width="2.2"/>
<line x1="2115.8" y1="1285.6" x2="2119.8" y2="1285.6" stroke="#c2c2c2" stroke-width="2.4"/>
<line x1="148.7" y1="1268.3" x2="156.7" y2="1268.3" stroke="#6a6a6a" stroke-width="2"/>
<line x1="2115.8" y1="1268.3" x2="2123.8" y2="1268.3" stroke="#8a8a8a" stroke-width="2"/>
<line x1="153.30" y1="1251.1" x2="156.7" y2="1251.1" stroke="#7a7a7a" stroke-width="2.2"/>
<line x1="2115.8" y1="1251.1" x2="2119.8" y2="1251.1" stroke="#c2c2c2" stroke-width="2.4"/>
<line x1="153.30" y1="1233.8" x2="156.7" y2="1233.8" stroke="#7a7a7a" stroke-width="2.2"/>
<line x1="2115.8" y1="1233.8" x2="2119.8" y2="1233.8" stroke="#c2c2c2" stroke-width="2.4"/>
<line x1="153.30" y1="1216.5" x2="156.7" y2="1216.5" stroke="#7a7a7a" stroke-width="2.2"/>
<line x1="2115.8" y1="1216.5" x2="2119.8" y2="1216.5" stroke="#c2c2c2" stroke-width="2.4"/>
<line x1="153.30" y1="1199.3" x2="156.7" y2="1199.3" stroke="#7a7a7a" stroke-width="2.2"/>
<line x1="2115.8" y1="1199.3" x2="2119.8" y2="1199.3" stroke="#c2c2c2" stroke-width="2.4"/>
<rect x="156.30" y="1180.5" width="1.9" height="2.6" fill="#e8e8e8"/>
<rect x="2114.3" y="1180.5" width="3" height="2.6" fill="#e8e8e8"/>
<text transform="translate(148.10,1191.53) scale(0.86,1)" font-size="22.6" font-weight="bold" text-anchor="end" fill="#2a2a2a" >100</text>
<text transform="translate(2124.00,1191.53) scale(0.88,1)" font-size="22.6" font-weight="bold" text-anchor="start" fill="#2a2a2a" >100</text>
<line x1="153.30" y1="1164.8" x2="156.7" y2="1164.8" stroke="#7a7a7a" stroke-width="2.2"/>
<line x1="2115.8" y1="1164.8" x2="2119.8" y2="1164.8" stroke="#c2c2c2" stroke-width="2.4"/>
<line x1="153.30" y1="1147.5" x2="156.7" y2="1147.5" stroke="#7a7a7a" stroke-width="2.2"/>
<line x1="2115.8" y1="1147.5" x2="2119.8" y2="1147.5" stroke="#c2c2c2" stroke-width="2.4"/>
<line x1="153.30" y1="1130.3" x2="156.7" y2="1130.3" stroke="#7a7a7a" stroke-width="2.2"/>
<line x1="2115.8" y1="1130.3" x2="2119.8" y2="1130.3" stroke="#c2c2c2" stroke-width="2.4"/>
<line x1="153.30" y1="1113.0" x2="156.7" y2="1113.0" stroke="#7a7a7a" stroke-width="2.2"/>
<line x1="2115.8" y1="1113.0" x2="2119.8" y2="1113.0" stroke="#c2c2c2" stroke-width="2.4"/>
<line x1="148.7" y1="1095.8" x2="156.7" y2="1095.8" stroke="#6a6a6a" stroke-width="2"/>
<line x1="2115.8" y1="1095.8" x2="2123.8" y2="1095.8" stroke="#8a8a8a" stroke-width="2"/>
<line x1="153.30" y1="1078.5" x2="156.7" y2="1078.5" stroke="#7a7a7a" stroke-width="2.2"/>
<line x1="2115.8" y1="1078.5" x2="2119.8" y2="1078.5" stroke="#c2c2c2" stroke-width="2.4"/>
<line x1="153.30" y1="1061.2" x2="156.7" y2="1061.2" stroke="#7a7a7a" stroke-width="2.2"/>
<line x1="2115.8" y1="1061.2" x2="2119.8" y2="1061.2" stroke="#c2c2c2" stroke-width="2.4"/>
<line x1="153.30" y1="1044.0" x2="156.7" y2="1044.0" stroke="#7a7a7a" stroke-width="2.2"/>
<line x1="2115.8" y1="1044.0" x2="2119.8" y2="1044.0" stroke="#c2c2c2" stroke-width="2.4"/>
<line x1="153.30" y1="1026.7" x2="156.7" y2="1026.7" stroke="#7a7a7a" stroke-width="2.2"/>
<line x1="2115.8" y1="1026.7" x2="2119.8" y2="1026.7" stroke="#c2c2c2" stroke-width="2.4"/>
<rect x="156.30" y="1008.0" width="1.9" height="2.6" fill="#e8e8e8"/>
<rect x="2114.3" y="1008.0" width="3" height="2.6" fill="#e8e8e8"/>
<text transform="translate(148.10,1018.97) scale(0.86,1)" font-size="22.6" font-weight="bold" text-anchor="end" fill="#2a2a2a" >200</text>
<text transform="translate(2124.00,1018.97) scale(0.88,1)" font-size="22.6" font-weight="bold" text-anchor="start" fill="#2a2a2a" >200</text>
<line x1="153.30" y1="992.2" x2="156.7" y2="992.2" stroke="#7a7a7a" stroke-width="2.2"/>
<line x1="2115.8" y1="992.2" x2="2119.8" y2="992.2" stroke="#c2c2c2" stroke-width="2.4"/>
<line x1="153.30" y1="975.0" x2="156.7" y2="975.0" stroke="#7a7a7a" stroke-width="2.2"/>
<line x1="2115.8" y1="975.0" x2="2119.8" y2="975.0" stroke="#c2c2c2" stroke-width="2.4"/>
<line x1="153.30" y1="957.7" x2="156.7" y2="957.7" stroke="#7a7a7a" stroke-width="2.2"/>
<line x1="2115.8" y1="957.7" x2="2119.8" y2="957.7" stroke="#c2c2c2" stroke-width="2.4"/>
<line x1="153.30" y1="940.4" x2="156.7" y2="940.4" stroke="#7a7a7a" stroke-width="2.2"/>
<line x1="2115.8" y1="940.4" x2="2119.8" y2="940.4" stroke="#c2c2c2" stroke-width="2.4"/>
<line x1="148.7" y1="923.2" x2="156.7" y2="923.2" stroke="#6a6a6a" stroke-width="2"/>
<line x1="2115.8" y1="923.2" x2="2123.8" y2="923.2" stroke="#8a8a8a" stroke-width="2"/>
<line x1="153.30" y1="905.9" x2="156.7" y2="905.9" stroke="#7a7a7a" stroke-width="2.2"/>
<line x1="2115.8" y1="905.9" x2="2119.8" y2="905.9" stroke="#c2c2c2" stroke-width="2.4"/>
<line x1="153.30" y1="888.7" x2="156.7" y2="888.7" stroke="#7a7a7a" stroke-width="2.2"/>
<line x1="2115.8" y1="888.7" x2="2119.8" y2="888.7" stroke="#c2c2c2" stroke-width="2.4"/>
<line x1="153.30" y1="871.4" x2="156.7" y2="871.4" stroke="#7a7a7a" stroke-width="2.2"/>
<line x1="2115.8" y1="871.4" x2="2119.8" y2="871.4" stroke="#c2c2c2" stroke-width="2.4"/>
<line x1="153.30" y1="854.2" x2="156.7" y2="854.2" stroke="#7a7a7a" stroke-width="2.2"/>
<line x1="2115.8" y1="854.2" x2="2119.8" y2="854.2" stroke="#c2c2c2" stroke-width="2.4"/>
<text transform="translate(148.10,846.40) scale(0.86,1)" font-size="22.6" font-weight="bold" text-anchor="end" fill="#2a2a2a" >300</text>
<text transform="translate(2124.00,846.40) scale(0.88,1)" font-size="22.6" font-weight="bold" text-anchor="start" fill="#2a2a2a" >300</text>
<text transform="translate(156.80,1386.60) scale(0.82,1)" font-size="23" font-weight="bold" text-anchor="middle" fill="#2a2a2a" >6</text>
<text transform="translate(238.70,1386.60) scale(0.82,1)" font-size="23" font-weight="bold" text-anchor="middle" fill="#2a2a2a" >7</text>
<text transform="translate(320.30,1386.60) scale(0.82,1)" font-size="23" font-weight="bold" text-anchor="middle" fill="#2a2a2a" >8</text>
<text transform="translate(401.60,1386.60) scale(0.82,1)" font-size="23" font-weight="bold" text-anchor="middle" fill="#2a2a2a" >9</text>
<text transform="translate(480.80,1386.60) scale(0.82,1)" font-size="23" font-weight="bold" text-anchor="middle" fill="#2a2a2a" >10</text>
<text transform="translate(560.60,1386.60) scale(0.82,1)" font-size="23" font-weight="bold" text-anchor="middle" fill="#2a2a2a" >11</text>
<text transform="translate(644.40,1386.60) scale(0.82,1)" font-size="23" font-weight="bold" text-anchor="middle" fill="#2a2a2a" >12</text>
<text transform="translate(724.20,1386.60) scale(0.82,1)" font-size="23" font-weight="bold" text-anchor="middle" fill="#2a2a2a" >13</text>
<text transform="translate(805.30,1386.60) scale(0.82,1)" font-size="23" font-weight="bold" text-anchor="middle" fill="#2a2a2a" >14</text>
<text transform="translate(888.70,1386.60) scale(0.82,1)" font-size="23" font-weight="bold" text-anchor="middle" fill="#2a2a2a" >15</text>
<text transform="translate(969.90,1386.60) scale(0.82,1)" font-size="23" font-weight="bold" text-anchor="middle" fill="#2a2a2a" >16</text>
<text transform="translate(1050.60,1386.60) scale(0.82,1)" font-size="23" font-weight="bold" text-anchor="middle" fill="#2a2a2a" >17</text>
<text transform="translate(1133.10,1386.60) scale(0.82,1)" font-size="23" font-weight="bold" text-anchor="middle" fill="#2a2a2a" >18</text>
<text transform="translate(1214.60,1386.60) scale(0.82,1)" font-size="23" font-weight="bold" text-anchor="middle" fill="#2a2a2a" >19</text>
<text transform="translate(1293.50,1386.60) scale(0.82,1)" font-size="23" font-weight="bold" text-anchor="middle" fill="#2a2a2a" >20</text>
<text transform="translate(1373.70,1386.60) scale(0.82,1)" font-size="23" font-weight="bold" text-anchor="middle" fill="#2a2a2a" >21</text>
<text transform="translate(1459.00,1386.60) scale(0.82,1)" font-size="23" font-weight="bold" text-anchor="middle" fill="#2a2a2a" >22</text>
<text transform="translate(1541.00,1386.60) scale(0.82,1)" font-size="23" font-weight="bold" text-anchor="middle" fill="#2a2a2a" >23</text>
<text transform="translate(1621.40,1386.60) scale(0.82,1)" font-size="23" font-weight="bold" text-anchor="middle" fill="#2a2a2a" >24</text>
<text transform="translate(1704.80,1386.60) scale(0.82,1)" font-size="23" font-weight="bold" text-anchor="middle" fill="#2a2a2a" >25</text>
<text transform="translate(1785.50,1386.60) scale(0.82,1)" font-size="23" font-weight="bold" text-anchor="middle" fill="#2a2a2a" >26</text>
<text transform="translate(1863.40,1386.60) scale(0.82,1)" font-size="23" font-weight="bold" text-anchor="middle" fill="#2a2a2a" >27</text>
<text transform="translate(1945.20,1386.60) scale(0.82,1)" font-size="23" font-weight="bold" text-anchor="middle" fill="#2a2a2a" >28</text>
<text transform="translate(2028.70,1386.60) scale(0.82,1)" font-size="23" font-weight="bold" text-anchor="middle" fill="#2a2a2a" >29</text>
<text transform="translate(2111.90,1386.60) scale(0.82,1)" font-size="23" font-weight="bold" text-anchor="middle" fill="#2a2a2a" >30</text>
<text transform="translate(1146.20,1415.10) scale(0.90,1)" font-size="22.5" font-weight="bold" text-anchor="middle" fill="#3c3c3c" >Minutes</text>
<text transform="translate(94.40,1083.00) rotate(-90) scale(0.98,1)" font-size="23.5" font-weight="bold" text-anchor="middle" fill="#2c2c2c" >mAU</text>
<text transform="translate(2206.00,1083.00) rotate(-90) scale(0.98,1)" font-size="23.5" font-weight="bold" text-anchor="middle" fill="#2c2c2c" >mAU</text>
<text transform="translate(327.70,918.30) scale(0.86,1)" font-size="27.4" font-weight="bold" text-anchor="middle" fill="#1c1c1c" >1</text>
<text transform="translate(353.00,954.50) scale(0.86,1)" font-size="27.4" font-weight="bold" text-anchor="middle" fill="#1c1c1c" >2</text>
<text transform="translate(697.00,1238.10) scale(0.86,1)" font-size="27.4" font-weight="bold" text-anchor="middle" fill="#1c1c1c" >3</text>
<text transform="translate(830.00,1300.50) scale(0.86,1)" font-size="27.4" font-weight="bold" text-anchor="middle" fill="#1c1c1c" >4</text>
<text transform="translate(851.30,1300.50) scale(0.86,1)" font-size="27.4" font-weight="bold" text-anchor="middle" fill="#1c1c1c" >5</text>
<text transform="translate(888.70,1284.30) scale(0.86,1)" font-size="27.4" font-weight="bold" text-anchor="middle" fill="#1c1c1c" >6</text>
<text transform="translate(995.90,1025.30) scale(0.86,1)" font-size="27.4" font-weight="bold" text-anchor="middle" fill="#1c1c1c" >7</text>
<text transform="translate(1026.40,1169.30) scale(0.86,1)" font-size="27.4" font-weight="bold" text-anchor="middle" fill="#1c1c1c" >8</text>
<text transform="translate(1063.60,1166.50) scale(0.86,1)" font-size="27.4" font-weight="bold" text-anchor="middle" fill="#1c1c1c" >9</text>
<text transform="translate(1094.00,1230.50) scale(0.86,1)" font-size="27.4" font-weight="bold" text-anchor="middle" fill="#1c1c1c" >10</text>
<text transform="translate(1141.00,1268.80) scale(0.86,1)" font-size="27.4" font-weight="bold" text-anchor="middle" fill="#1c1c1c" >11</text>
<text transform="translate(1324.80,1268.10) scale(0.86,1)" font-size="27.4" font-weight="bold" text-anchor="middle" fill="#1c1c1c" >12</text>
<text transform="translate(1368.30,1288.50) scale(0.86,1)" font-size="27.4" font-weight="bold" text-anchor="middle" fill="#1c1c1c" >13</text>
<text transform="translate(1537.40,1288.50) scale(0.86,1)" font-size="27.4" font-weight="bold" text-anchor="middle" fill="#1c1c1c" >14</text>
<text transform="translate(1566.40,1264.30) scale(0.86,1)" font-size="27.4" font-weight="bold" text-anchor="middle" fill="#1c1c1c" >15</text>
<text transform="translate(1720.30,1247.50) scale(0.86,1)" font-size="27.4" font-weight="bold" text-anchor="middle" fill="#1c1c1c" >16</text>
<text transform="translate(1746.80,1288.50) scale(0.86,1)" font-size="27.4" font-weight="bold" text-anchor="middle" fill="#1c1c1c" >17</text>
<text x="2005.3" y="907.8" font-size="62.8" font-weight="bold" fill="#111" textLength="77.40" lengthAdjust="spacingAndGlyphs">RG</text>
</g>
<g fill="#000" stroke="none">
<rect x="201.8" y="1648.41" width="5.0" height="539.69"/>
<rect x="188.2" y="2182.85" width="2024.2" height="5.5"/>
<rect x="188.2" y="2183.1" width="16" height="5.0"/>
<rect x="188.2" y="2094.0" width="16" height="5.0"/>
<rect x="188.2" y="2004.9" width="16" height="5.0"/>
<rect x="188.2" y="1915.8" width="16" height="5.0"/>
<rect x="188.2" y="1826.6" width="16" height="5.0"/>
<rect x="188.2" y="1737.5" width="16" height="5.0"/>
<rect x="188.2" y="1648.4" width="16" height="5.0"/>
<rect x="232.4" y="1988.9" width="93.8" height="196.7"/>
<rect x="276.7" y="1940.0" width="5.2" height="49.9"/>
<rect x="267.8" y="1937.4" width="23" height="5.2"/>
<rect x="353.8" y="1901.7" width="92.6" height="283.9"/>
<rect x="397.5" y="1811.2" width="5.2" height="91.5"/>
<rect x="388.6" y="1808.6" width="23" height="5.2"/>
<rect x="474.0" y="1997.5" width="93.7" height="188.1"/>
<rect x="518.2" y="1879.0" width="5.2" height="119.5"/>
<rect x="509.4" y="1876.4" width="23" height="5.2"/>
<rect x="589.0" y="2165.8" width="92.0" height="19.8"/>
<rect x="632.4" y="2159.6" width="5.2" height="7.2"/>
<rect x="623.5" y="2157.0" width="23" height="5.2"/>
<rect x="703.5" y="2158.8" width="94.1" height="26.8"/>
<rect x="747.9" y="2151.8" width="5.2" height="8.0"/>
<rect x="739.0" y="2149.2" width="23" height="5.2"/>
<rect x="820.2" y="2160.9" width="93.4" height="24.7"/>
<rect x="864.3" y="2153.5" width="5.2" height="8.4"/>
<rect x="855.4" y="2150.9" width="23" height="5.2"/>
<rect x="933.4" y="1817.4" width="94.6" height="368.2"/>
<rect x="978.1" y="1735.0" width="5.2" height="83.4"/>
<rect x="969.2" y="1732.4" width="23" height="5.2"/>
<rect x="1049.4" y="2051.0" width="94.6" height="134.6"/>
<rect x="1094.1" y="1997.0" width="5.2" height="55.0"/>
<rect x="1085.2" y="1994.4" width="23" height="5.2"/>
<rect x="1165.8" y="2069.0" width="93.8" height="116.6"/>
<rect x="1210.1" y="2036.2" width="5.2" height="33.8"/>
<rect x="1201.2" y="2033.6" width="23" height="5.2"/>
<rect x="1279.0" y="2157.6" width="94.6" height="28.0"/>
<rect x="1323.7" y="2153.5" width="5.2" height="5.1"/>
<rect x="1314.8" y="2150.9" width="23" height="5.2"/>
<rect x="1395.4" y="2163.0" width="95.0" height="22.6"/>
<rect x="1440.3" y="2156.8" width="5.2" height="7.2"/>
<rect x="1431.4" y="2154.2" width="23" height="5.2"/>
<rect x="1512.2" y="2176.5" width="93.4" height="9.1"/>
<rect x="1556.3" y="2173.2" width="5.2" height="4.3"/>
<rect x="1547.4" y="2170.6" width="23" height="5.2"/>
<rect x="1625.0" y="2157.6" width="94.6" height="28.0"/>
<rect x="1669.7" y="2151.4" width="5.2" height="7.2"/>
<rect x="1660.8" y="2148.8" width="23" height="5.2"/>
<rect x="1741.4" y="2169.1" width="94.6" height="16.5"/>
<rect x="1786.1" y="2165.8" width="5.2" height="4.3"/>
<rect x="1777.2" y="2163.2" width="23" height="5.2"/>
<rect x="1857.8" y="2171.2" width="92.6" height="14.4"/>
<rect x="1901.5" y="2167.0" width="5.2" height="5.2"/>
<rect x="1892.6" y="2164.4" width="23" height="5.2"/>
<rect x="1971.7" y="2128.0" width="93.8" height="57.6"/>
<rect x="2016.0" y="2117.7" width="5.2" height="11.3"/>
<rect x="2007.1" y="2115.1" width="23" height="5.2"/>
<rect x="2087.8" y="2032.0" width="94.6" height="153.6"/>
<rect x="2132.5" y="1996.3" width="5.2" height="36.7"/>
<rect x="2123.6" y="1993.7" width="23" height="5.2"/>
</g>
<text x="249.20" y="2232.4" font-size="31.5" font-weight="bold" fill="#0a0a0a" textLength="55.00" lengthAdjust="spacingAndGlyphs">Rg1</text>
<text x="377.68" y="2232.4" font-size="31.5" font-weight="bold" fill="#0a0a0a" textLength="40.03" lengthAdjust="spacingAndGlyphs">Re</text>
<text x="502.22" y="2232.4" font-size="31.5" font-weight="bold" fill="#0a0a0a" textLength="32.00" lengthAdjust="spacingAndGlyphs">Rf</text>
<text x="584.69" y="2232.4" font-size="31.5" font-weight="bold" fill="#0a0a0a" textLength="98.02" lengthAdjust="spacingAndGlyphs">Rh1(S)</text>
<text x="700.70" y="2232.4" font-size="31.5" font-weight="bold" fill="#0a0a0a" textLength="96.00" lengthAdjust="spacingAndGlyphs">Rg2(S)</text>
<text x="814.68" y="2232.4" font-size="31.5" font-weight="bold" fill="#0a0a0a" textLength="100.53" lengthAdjust="spacingAndGlyphs">Rg2(R)</text>
<text x="950.73" y="2232.4" font-size="31.5" font-weight="bold" fill="#0a0a0a" textLength="55.46" lengthAdjust="spacingAndGlyphs">Rb1</text>
<text x="1075.12" y="2232.4" font-size="31.5" font-weight="bold" fill="#0a0a0a" textLength="41.14" lengthAdjust="spacingAndGlyphs">Rc</text>
<text x="1180.69" y="2232.4" font-size="31.5" font-weight="bold" fill="#0a0a0a" textLength="58.51" lengthAdjust="spacingAndGlyphs">Rb2</text>
<text x="1295.69" y="2232.4" font-size="31.5" font-weight="bold" fill="#0a0a0a" textLength="58.51" lengthAdjust="spacingAndGlyphs">Rb3</text>
<text x="1419.62" y="2232.4" font-size="31.5" font-weight="bold" fill="#0a0a0a" textLength="42.65" lengthAdjust="spacingAndGlyphs">Rd</text>
<text x="1527.69" y="2232.4" font-size="31.5" font-weight="bold" fill="#0a0a0a" textLength="56.51" lengthAdjust="spacingAndGlyphs">Rk3</text>
<text x="1641.23" y="2232.4" font-size="31.5" font-weight="bold" fill="#0a0a0a" textLength="58.97" lengthAdjust="spacingAndGlyphs">Rh4</text>
<text x="1737.69" y="2232.4" font-size="31.5" font-weight="bold" fill="#0a0a0a" textLength="98.02" lengthAdjust="spacingAndGlyphs">Rg3(S)</text>
<text x="1851.69" y="2232.4" font-size="31.5" font-weight="bold" fill="#0a0a0a" textLength="99.02" lengthAdjust="spacingAndGlyphs">Rg3(R)</text>
<text x="1987.20" y="2232.4" font-size="31.5" font-weight="bold" fill="#0a0a0a" textLength="55.50" lengthAdjust="spacingAndGlyphs">Rk1</text>
<text x="2102.20" y="2232.4" font-size="31.5" font-weight="bold" fill="#0a0a0a" textLength="59.00" lengthAdjust="spacingAndGlyphs">Rg5</text>
<text transform="translate(182.80,2195.20) scale(0.97,1)" font-size="30.5" font-weight="bold" text-anchor="end" fill="#0a0a0a" >0</text>
<text transform="translate(182.80,2106.09) scale(0.97,1)" font-size="30.5" font-weight="bold" text-anchor="end" fill="#0a0a0a" >0.5</text>
<text transform="translate(182.80,2016.97) scale(0.97,1)" font-size="30.5" font-weight="bold" text-anchor="end" fill="#0a0a0a" >1.0</text>
<text transform="translate(182.80,1927.85) scale(0.97,1)" font-size="30.5" font-weight="bold" text-anchor="end" fill="#0a0a0a" >1.5</text>
<text transform="translate(182.80,1838.74) scale(0.97,1)" font-size="30.5" font-weight="bold" text-anchor="end" fill="#0a0a0a" >2.0</text>
<text transform="translate(182.80,1749.62) scale(0.97,1)" font-size="30.5" font-weight="bold" text-anchor="end" fill="#0a0a0a" >2.5</text>
<text transform="translate(182.80,1660.51) scale(0.97,1)" font-size="30.5" font-weight="bold" text-anchor="end" fill="#0a0a0a" >3.0</text>
<text transform="translate(103.60,1916.00) rotate(-90)" font-size="32.6" font-weight="normal" text-anchor="middle" fill="#111" stroke="#111" stroke-width="0.7">contents of ginsenoside (mg/g)</text>
</svg>
</body></html>
